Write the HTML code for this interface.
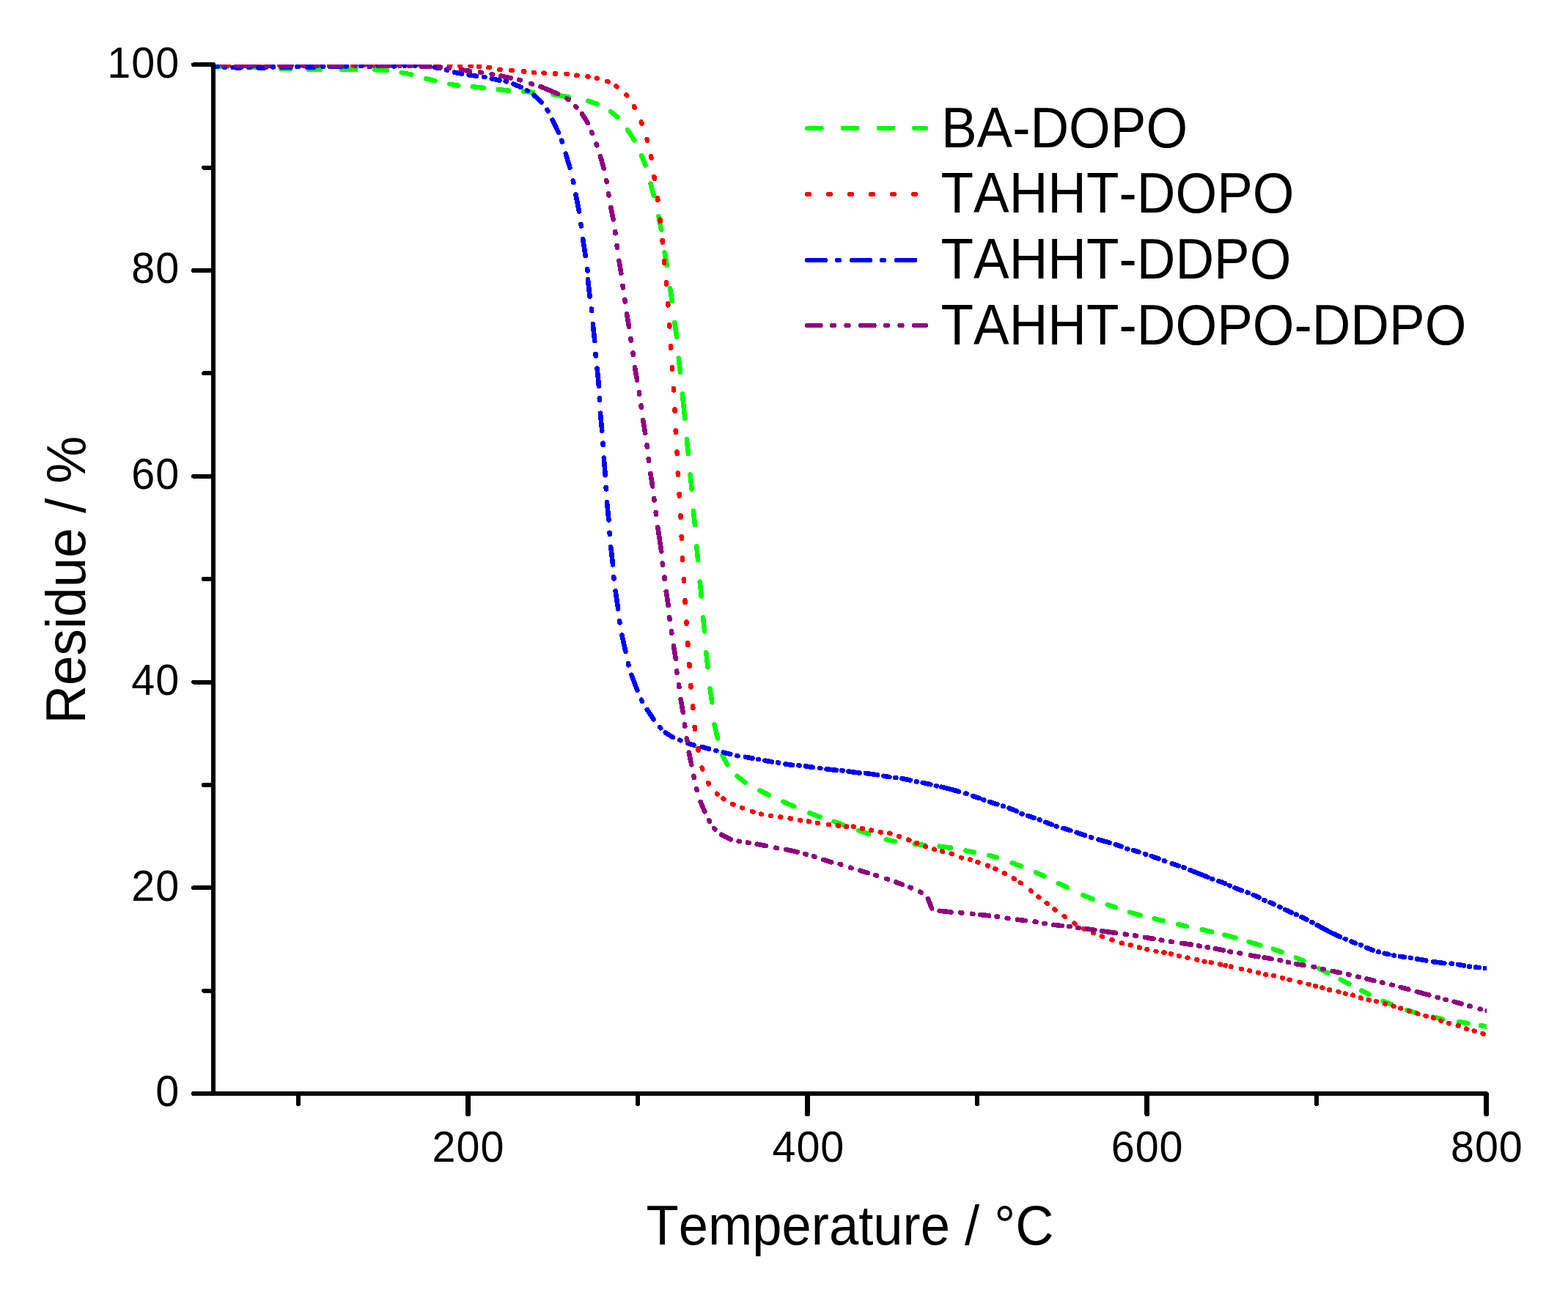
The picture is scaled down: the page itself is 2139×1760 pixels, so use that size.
<!DOCTYPE html>
<html lang="en">
<head>
<meta charset="utf-8">
<title>TGA curves: Residue vs Temperature</title>
<style>
html,body{margin:0;padding:0;background:#ffffff;}
body{width:2139px;height:1760px;overflow:hidden;font-family:"Liberation Sans",sans-serif;}
svg{display:block;}
text{font-kerning:none;}
</style>
</head>
<body>
<svg width="2139" height="1760" viewBox="0 0 2139 1760" role="img" aria-label="Thermogravimetric curves: residue versus temperature">
<rect width="2139" height="1760" fill="#ffffff"/>
<clipPath id="c"><rect x="291.2" y="88.0" width="1736.8" height="1404.0"/></clipPath>
<g clip-path="url(#c)" shape-rendering="crispEdges">
<path fill="#00ff00" d="M299.21 93.90L309.60 94.20A3.30 3.30 0 0 0 309.79 87.60L299.40 87.30A3.30 3.30 0 0 0 299.21 93.90zM341.19 95.17L354.59 95.63A3.30 3.30 0 0 0 354.81 89.03L341.41 88.57A3.30 3.30 0 0 0 341.19 95.17zM382.70 96.80L395.60 97.20A3.30 3.30 0 0 0 395.80 90.60L382.90 90.20A3.30 3.30 0 0 0 382.70 96.80zM421.25 97.98L436.65 98.22A3.30 3.30 0 0 0 436.75 91.62L421.35 91.38A3.30 3.30 0 0 0 421.25 97.98zM465.77 98.16L485.17 98.34A3.30 3.30 0 0 0 485.23 91.74L465.83 91.56A3.30 3.30 0 0 0 465.77 98.16zM511.09 98.47L527.48 99.52A3.30 3.30 0 0 0 527.91 92.93L511.52 91.88A3.30 3.30 0 0 0 511.09 98.47zM547.06 102.26L560.70 104.88A3.30 3.30 0 0 0 561.95 98.40L548.30 95.78A3.30 3.30 0 0 0 547.06 102.26zM580.51 110.52L592.68 113.50A3.30 3.30 0 0 0 594.25 107.09L582.09 104.11A3.30 3.30 0 0 0 580.51 110.52zM612.89 118.03L624.80 119.95A3.30 3.30 0 0 0 625.85 113.44L613.94 111.52A3.30 3.30 0 0 0 612.89 118.03zM644.44 121.49L659.33 123.17A3.30 3.30 0 0 0 660.07 116.61L645.18 114.93A3.30 3.30 0 0 0 644.44 121.49zM679.41 125.40L693.73 126.86A3.30 3.30 0 0 0 694.40 120.29L680.08 118.83A3.30 3.30 0 0 0 679.41 125.40zM713.90 128.02L726.83 129.22A3.30 3.30 0 0 0 727.45 122.65L714.52 121.44A3.30 3.30 0 0 0 713.90 128.02zM754.12 132.19L775.00 135.47A3.30 3.30 0 0 0 776.03 128.95L755.15 125.67A3.30 3.30 0 0 0 754.12 132.19zM800.91 140.70L814.15 145.30A3.30 3.30 0 0 0 816.32 139.07L803.07 134.47A3.30 3.30 0 0 0 800.91 140.70zM831.08 154.78L840.31 162.40A3.30 3.30 0 0 0 844.51 157.31L835.28 149.69A3.30 3.30 0 0 0 831.08 154.78zM853.14 178.55L862.52 193.19A3.30 3.30 0 0 0 868.08 189.63L858.69 174.99A3.30 3.30 0 0 0 853.14 178.55zM871.91 213.23L877.41 226.81A3.30 3.30 0 0 0 883.53 224.34L878.03 210.75A3.30 3.30 0 0 0 871.91 213.23zM884.19 251.27L888.64 267.85A3.30 3.30 0 0 0 895.01 266.14L890.56 249.56A3.30 3.30 0 0 0 884.19 251.27zM895.14 295.64L899.08 314.38A3.30 3.30 0 0 0 905.54 313.03L901.60 294.29A3.30 3.30 0 0 0 895.14 295.64zM903.41 345.04L906.35 362.63A3.30 3.30 0 0 0 912.86 361.54L909.92 343.95A3.30 3.30 0 0 0 903.41 345.04zM910.83 393.51L913.56 411.62A3.30 3.30 0 0 0 920.09 410.63L917.35 392.53A3.30 3.30 0 0 0 910.83 393.51zM917.19 440.63L919.72 460.04A3.30 3.30 0 0 0 926.27 459.18L923.74 439.77A3.30 3.30 0 0 0 917.19 440.63zM922.48 489.10L924.68 508.41A3.30 3.30 0 0 0 931.24 507.67L929.04 488.36A3.30 3.30 0 0 0 922.48 489.10zM927.47 537.54L931.10 571.16A3.30 3.30 0 0 0 937.67 570.45L934.03 536.83A3.30 3.30 0 0 0 927.47 537.54zM933.52 599.35L935.69 619.61A3.30 3.30 0 0 0 942.26 618.90L940.08 598.65A3.30 3.30 0 0 0 933.52 599.35zM938.31 647.81L940.41 668.08A3.30 3.30 0 0 0 946.97 667.40L944.88 647.13A3.30 3.30 0 0 0 938.31 647.81zM942.61 697.15L944.67 716.66A3.30 3.30 0 0 0 951.23 715.96L949.17 696.46A3.30 3.30 0 0 0 942.61 697.15zM946.94 745.93L948.89 764.71A3.30 3.30 0 0 0 955.45 764.03L953.51 745.25A3.30 3.30 0 0 0 946.94 745.93zM951.43 793.83L953.53 813.78A3.30 3.30 0 0 0 960.09 813.09L957.99 793.14A3.30 3.30 0 0 0 951.43 793.83zM955.85 842.83L957.86 861.74A3.30 3.30 0 0 0 964.42 861.04L962.41 842.14A3.30 3.30 0 0 0 955.85 842.83zM959.97 890.78L962.30 910.82A3.30 3.30 0 0 0 968.85 910.06L966.53 890.02A3.30 3.30 0 0 0 959.97 890.78zM965.31 939.89L968.00 958.83A3.30 3.30 0 0 0 974.53 957.91L971.85 938.96A3.30 3.30 0 0 0 965.31 939.89zM971.38 988.97L975.72 1008.19A3.30 3.30 0 0 0 982.16 1006.73L977.81 987.52A3.30 3.30 0 0 0 971.38 988.97zM982.53 1032.09L989.54 1045.08A3.30 3.30 0 0 0 995.34 1041.94L988.33 1028.95A3.30 3.30 0 0 0 982.53 1032.09zM1003.44 1061.28L1014.44 1070.26A3.30 3.30 0 0 0 1018.61 1065.14L1007.61 1056.17A3.30 3.30 0 0 0 1003.44 1061.28zM1034.93 1081.27L1047.17 1087.69A3.30 3.30 0 0 0 1050.24 1081.85L1038.00 1075.42A3.30 3.30 0 0 0 1034.93 1081.27zM1067.17 1096.77L1081.90 1103.20A3.30 3.30 0 0 0 1084.54 1097.15L1069.81 1090.72A3.30 3.30 0 0 0 1067.17 1096.77zM1103.33 1112.26L1117.29 1117.66A3.30 3.30 0 0 0 1119.67 1111.51L1105.71 1106.10A3.30 3.30 0 0 0 1103.33 1112.26zM1136.65 1123.94L1149.70 1128.65A3.30 3.30 0 0 0 1151.94 1122.45L1138.89 1117.73A3.30 3.30 0 0 0 1136.65 1123.94zM1169.96 1136.18L1183.99 1140.98A3.30 3.30 0 0 0 1186.13 1134.74L1172.10 1129.93A3.30 3.30 0 0 0 1169.96 1136.18zM1208.06 1148.67L1220.19 1151.32A3.30 3.30 0 0 0 1221.60 1144.87L1209.47 1142.22A3.30 3.30 0 0 0 1208.06 1148.67zM1247.43 1154.83L1260.39 1156.29A3.30 3.30 0 0 0 1261.13 1149.73L1248.17 1148.27A3.30 3.30 0 0 0 1247.43 1154.83zM1281.19 1157.88L1296.80 1159.96A3.30 3.30 0 0 0 1297.67 1153.42L1282.06 1151.34A3.30 3.30 0 0 0 1281.19 1157.88zM1316.42 1163.72L1328.42 1166.10A3.30 3.30 0 0 0 1329.70 1159.62L1317.70 1157.25A3.30 3.30 0 0 0 1316.42 1163.72zM1347.90 1170.05L1359.00 1173.15A3.30 3.30 0 0 0 1360.77 1166.79L1349.67 1163.70A3.30 3.30 0 0 0 1347.90 1170.05zM1379.61 1180.35L1391.97 1184.93A3.30 3.30 0 0 0 1394.27 1178.74L1381.91 1174.16A3.30 3.30 0 0 0 1379.61 1180.35zM1411.48 1193.26L1422.85 1198.29A3.30 3.30 0 0 0 1425.52 1192.25L1414.15 1187.23A3.30 3.30 0 0 0 1411.48 1193.26zM1442.42 1208.04L1454.52 1213.68A3.30 3.30 0 0 0 1457.31 1207.70L1445.21 1202.06A3.30 3.30 0 0 0 1442.42 1208.04zM1476.20 1224.22L1489.43 1229.74A3.30 3.30 0 0 0 1491.97 1223.65L1478.74 1218.13A3.30 3.30 0 0 0 1476.20 1224.22zM1509.75 1237.30L1520.92 1241.14A3.30 3.30 0 0 0 1523.06 1234.90L1511.90 1231.06A3.30 3.30 0 0 0 1509.75 1237.30zM1539.93 1247.67L1554.95 1251.98A3.30 3.30 0 0 0 1556.77 1245.64L1541.74 1241.33A3.30 3.30 0 0 0 1539.93 1247.67zM1573.82 1256.49L1586.31 1259.58A3.30 3.30 0 0 0 1587.89 1253.17L1575.41 1250.08A3.30 3.30 0 0 0 1573.82 1256.49zM1606.02 1264.24L1618.28 1267.06A3.30 3.30 0 0 0 1619.76 1260.63L1607.50 1257.81A3.30 3.30 0 0 0 1606.02 1264.24zM1638.96 1271.42L1652.45 1274.52A3.30 3.30 0 0 0 1653.93 1268.08L1640.44 1264.99A3.30 3.30 0 0 0 1638.96 1271.42zM1669.71 1278.65L1684.52 1282.70A3.30 3.30 0 0 0 1686.26 1276.33L1671.45 1272.28A3.30 3.30 0 0 0 1669.71 1278.65zM1702.69 1288.15L1718.26 1292.82A3.30 3.30 0 0 0 1720.16 1286.49L1704.59 1281.82A3.30 3.30 0 0 0 1702.69 1288.15zM1735.67 1297.93L1747.39 1301.96A3.30 3.30 0 0 0 1749.54 1295.72L1737.81 1291.69A3.30 3.30 0 0 0 1735.67 1297.93zM1766.57 1309.52L1777.10 1313.97A3.30 3.30 0 0 0 1779.67 1307.89L1769.13 1303.44A3.30 3.30 0 0 0 1766.57 1309.52zM1798.05 1324.41L1809.89 1330.28A3.30 3.30 0 0 0 1812.82 1324.37L1800.99 1318.50A3.30 3.30 0 0 0 1798.05 1324.41zM1827.24 1339.31L1838.97 1345.37A3.30 3.30 0 0 0 1842.00 1339.51L1830.27 1333.45A3.30 3.30 0 0 0 1827.24 1339.31zM1855.89 1354.39L1866.14 1359.44A3.30 3.30 0 0 0 1869.06 1353.52L1858.80 1348.47A3.30 3.30 0 0 0 1855.89 1354.39zM1885.43 1368.87L1896.94 1373.49A3.30 3.30 0 0 0 1899.40 1367.37L1887.89 1362.75A3.30 3.30 0 0 0 1885.43 1368.87zM1917.91 1381.24L1930.60 1385.07A3.30 3.30 0 0 0 1932.50 1378.76L1919.82 1374.93A3.30 3.30 0 0 0 1917.91 1381.24zM1954.29 1390.82L1967.54 1393.69A3.30 3.30 0 0 0 1968.94 1387.24L1955.70 1384.37A3.30 3.30 0 0 0 1954.29 1390.82zM1989.35 1397.28L2002.17 1399.45A3.30 3.30 0 0 0 2003.27 1392.95L1990.45 1390.77A3.30 3.30 0 0 0 1989.35 1397.28zM2019.17 1402.38L2034.51 1405.00A3.30 3.30 0 0 0 2035.62 1398.49L2020.28 1395.88A3.30 3.30 0 0 0 2019.17 1402.38z"/>
<path fill="#ff0000" d="M296.68 92.50L297.32 92.50A3.30 3.30 0 0 0 297.32 85.90L296.68 85.90A3.30 3.30 0 0 0 296.68 92.50zM310.56 92.50L311.84 92.50A3.30 3.30 0 0 0 311.84 85.90L310.56 85.90A3.30 3.30 0 0 0 310.56 92.50zM324.76 92.50L326.04 92.50A3.30 3.30 0 0 0 326.04 85.90L324.76 85.90A3.30 3.30 0 0 0 324.76 92.50zM338.96 92.50L340.24 92.50A3.30 3.30 0 0 0 340.24 85.90L338.96 85.90A3.30 3.30 0 0 0 338.96 92.50zM353.16 92.50L354.44 92.50A3.30 3.30 0 0 0 354.44 85.90L353.16 85.90A3.30 3.30 0 0 0 353.16 92.50zM367.36 92.50L368.64 92.50A3.30 3.30 0 0 0 368.64 85.90L367.36 85.90A3.30 3.30 0 0 0 367.36 92.50zM381.56 92.50L382.84 92.50A3.30 3.30 0 0 0 382.84 85.90L381.56 85.90A3.30 3.30 0 0 0 381.56 92.50zM395.76 92.50L397.04 92.50A3.30 3.30 0 0 0 397.04 85.90L395.76 85.90A3.30 3.30 0 0 0 395.76 92.50zM409.96 92.50L411.24 92.50A3.30 3.30 0 0 0 411.24 85.90L409.96 85.90A3.30 3.30 0 0 0 409.96 92.50zM424.16 92.50L425.44 92.50A3.30 3.30 0 0 0 425.44 85.90L424.16 85.90A3.30 3.30 0 0 0 424.16 92.50zM438.36 92.50L439.64 92.50A3.30 3.30 0 0 0 439.64 85.90L438.36 85.90A3.30 3.30 0 0 0 438.36 92.50zM452.56 92.50L453.84 92.50A3.30 3.30 0 0 0 453.84 85.90L452.56 85.90A3.30 3.30 0 0 0 452.56 92.50zM466.76 92.50L468.04 92.50A3.30 3.30 0 0 0 468.04 85.90L466.76 85.90A3.30 3.30 0 0 0 466.76 92.50zM480.96 92.50L482.24 92.50A3.30 3.30 0 0 0 482.24 85.90L480.96 85.90A3.30 3.30 0 0 0 480.96 92.50zM495.16 92.50L496.44 92.50A3.30 3.30 0 0 0 496.44 85.90L495.16 85.90A3.30 3.30 0 0 0 495.16 92.50zM509.36 92.50L510.64 92.50A3.30 3.30 0 0 0 510.64 85.90L509.36 85.90A3.30 3.30 0 0 0 509.36 92.50zM523.56 92.50L524.84 92.50A3.30 3.30 0 0 0 524.84 85.90L523.56 85.90A3.30 3.30 0 0 0 523.56 92.50zM537.76 92.50L539.04 92.50A3.30 3.30 0 0 0 539.04 85.90L537.76 85.90A3.30 3.30 0 0 0 537.76 92.50zM551.96 92.50L553.24 92.50A3.30 3.30 0 0 0 553.24 85.90L551.96 85.90A3.30 3.30 0 0 0 551.96 92.50zM566.16 92.50L567.44 92.50A3.30 3.30 0 0 0 567.44 85.90L566.16 85.90A3.30 3.30 0 0 0 566.16 92.50zM580.36 92.50L581.64 92.50A3.30 3.30 0 0 0 581.64 85.90L580.36 85.90A3.30 3.30 0 0 0 580.36 92.50zM594.49 92.51L595.96 92.49A3.30 3.30 0 0 0 595.91 85.89L594.44 85.91A3.30 3.30 0 0 0 594.49 92.51zM612.99 92.25L614.43 92.26A3.30 3.30 0 0 0 614.50 85.67L613.06 85.65A3.30 3.30 0 0 0 612.99 92.25zM626.59 92.82L627.87 92.87A3.30 3.30 0 0 0 628.14 86.28L626.87 86.23A3.30 3.30 0 0 0 626.59 92.82zM641.45 93.41L642.61 93.47A3.30 3.30 0 0 0 642.91 86.87L641.75 86.82A3.30 3.30 0 0 0 641.45 93.41zM652.61 93.98L653.73 94.07A3.30 3.30 0 0 0 654.26 87.49L653.14 87.40A3.30 3.30 0 0 0 652.61 93.98zM665.95 95.33L667.23 95.51A3.30 3.30 0 0 0 668.17 88.98L666.89 88.80A3.30 3.30 0 0 0 665.95 95.33zM680.78 98.01L682.17 98.19A3.30 3.30 0 0 0 683.02 91.65L681.63 91.47A3.30 3.30 0 0 0 680.78 98.01zM697.06 99.39L698.53 99.51A3.30 3.30 0 0 0 699.06 92.93L697.60 92.81A3.30 3.30 0 0 0 697.06 99.39zM713.61 100.71L714.97 100.84A3.30 3.30 0 0 0 715.59 94.27L714.23 94.14A3.30 3.30 0 0 0 713.61 100.71zM727.59 102.25L728.82 102.35A3.30 3.30 0 0 0 729.37 95.77L728.13 95.67A3.30 3.30 0 0 0 727.59 102.25zM741.35 103.03L742.64 103.10A3.30 3.30 0 0 0 742.99 96.51L741.69 96.44A3.30 3.30 0 0 0 741.35 103.03zM756.56 103.80L757.95 103.86A3.30 3.30 0 0 0 758.19 97.26L756.80 97.21A3.30 3.30 0 0 0 756.56 103.80zM772.24 104.15L773.56 104.25A3.30 3.30 0 0 0 774.07 97.67L772.75 97.57A3.30 3.30 0 0 0 772.24 104.15zM785.81 106.01L787.10 106.17A3.30 3.30 0 0 0 787.88 99.61L786.58 99.46A3.30 3.30 0 0 0 785.81 106.01zM800.96 107.51L802.20 107.69A3.30 3.30 0 0 0 803.14 101.16L801.91 100.98A3.30 3.30 0 0 0 800.96 107.51zM812.99 109.85L814.20 110.16A3.30 3.30 0 0 0 815.83 103.76L814.62 103.45A3.30 3.30 0 0 0 812.99 109.85zM827.17 113.97L828.38 114.47A3.30 3.30 0 0 0 830.92 108.39L829.72 107.88A3.30 3.30 0 0 0 827.17 113.97zM838.70 120.28L839.85 121.11A3.30 3.30 0 0 0 843.73 115.77L842.58 114.93A3.30 3.30 0 0 0 838.70 120.28zM851.68 131.34L852.76 132.59A3.30 3.30 0 0 0 857.75 128.28L856.67 127.03A3.30 3.30 0 0 0 851.68 131.34zM862.00 146.71L862.92 148.39A3.30 3.30 0 0 0 868.72 145.23L867.80 143.55A3.30 3.30 0 0 0 862.00 146.71zM871.78 167.65L872.56 169.66A3.30 3.30 0 0 0 878.71 167.26L877.93 165.25A3.30 3.30 0 0 0 871.78 167.65zM879.38 190.66L879.96 192.76A3.30 3.30 0 0 0 886.32 191.01L885.74 188.91A3.30 3.30 0 0 0 879.38 190.66zM884.71 213.86L885.15 216.18A3.30 3.30 0 0 0 891.64 214.96L891.20 212.64A3.30 3.30 0 0 0 884.71 213.86zM889.09 241.78L889.49 244.34A3.30 3.30 0 0 0 896.01 243.32L895.61 240.76A3.30 3.30 0 0 0 889.09 241.78zM893.66 270.61L894.02 273.18A3.30 3.30 0 0 0 900.56 272.28L900.20 269.71A3.30 3.30 0 0 0 893.66 270.61zM897.11 299.62L897.40 302.20A3.30 3.30 0 0 0 903.96 301.45L903.66 298.86A3.30 3.30 0 0 0 897.11 299.62zM900.36 328.28L900.60 330.84A3.30 3.30 0 0 0 907.17 330.20L906.93 327.64A3.30 3.30 0 0 0 900.36 328.28zM902.64 356.58L902.87 359.14A3.30 3.30 0 0 0 909.45 358.55L909.22 355.99A3.30 3.30 0 0 0 902.64 356.58zM905.50 385.46L905.73 388.05A3.30 3.30 0 0 0 912.30 387.46L912.07 384.88A3.30 3.30 0 0 0 905.50 385.46zM907.79 414.16L907.99 416.75A3.30 3.30 0 0 0 914.57 416.26L914.37 413.66A3.30 3.30 0 0 0 907.79 414.16zM909.89 443.23L910.07 445.82A3.30 3.30 0 0 0 916.65 445.37L916.47 442.77A3.30 3.30 0 0 0 909.89 443.23zM911.79 472.30L911.96 474.90A3.30 3.30 0 0 0 918.55 474.47L918.38 471.87A3.30 3.30 0 0 0 911.79 472.30zM913.69 501.20L913.86 503.79A3.30 3.30 0 0 0 920.45 503.36L920.28 500.77A3.30 3.30 0 0 0 913.69 501.20zM915.60 530.09L915.76 532.66A3.30 3.30 0 0 0 922.34 532.27L922.19 529.70A3.30 3.30 0 0 0 915.60 530.09zM917.13 558.57L917.26 561.15A3.30 3.30 0 0 0 923.85 560.82L923.73 558.24A3.30 3.30 0 0 0 917.13 558.57zM918.46 587.67L918.60 590.26A3.30 3.30 0 0 0 925.19 589.90L925.05 587.30A3.30 3.30 0 0 0 918.46 587.67zM920.36 616.56L920.50 619.15A3.30 3.30 0 0 0 927.09 618.81L926.95 616.21A3.30 3.30 0 0 0 920.36 616.56zM921.50 645.65L921.64 648.23A3.30 3.30 0 0 0 928.23 647.89L928.09 645.30A3.30 3.30 0 0 0 921.50 645.65zM923.39 674.20L923.56 676.79A3.30 3.30 0 0 0 930.14 676.37L929.98 673.78A3.30 3.30 0 0 0 923.39 674.20zM925.12 703.44L925.25 706.03A3.30 3.30 0 0 0 931.84 705.69L931.71 703.09A3.30 3.30 0 0 0 925.12 703.44zM926.45 732.16L926.57 734.76A3.30 3.30 0 0 0 933.17 734.45L933.05 731.86A3.30 3.30 0 0 0 926.45 732.16zM927.78 761.27L927.91 763.87A3.30 3.30 0 0 0 934.50 763.52L934.37 760.92A3.30 3.30 0 0 0 927.78 761.27zM929.48 790.38L929.63 792.97A3.30 3.30 0 0 0 936.22 792.59L936.07 789.99A3.30 3.30 0 0 0 929.48 790.38zM931.19 819.48L931.35 822.07A3.30 3.30 0 0 0 937.94 821.66L937.78 819.07A3.30 3.30 0 0 0 931.19 819.48zM933.09 848.58L933.26 851.17A3.30 3.30 0 0 0 939.84 850.74L939.67 848.14A3.30 3.30 0 0 0 933.09 848.58zM934.98 877.48L935.16 880.08A3.30 3.30 0 0 0 941.75 879.63L941.57 877.03A3.30 3.30 0 0 0 934.98 877.48zM937.07 906.57L937.25 909.17A3.30 3.30 0 0 0 943.84 908.71L943.66 906.12A3.30 3.30 0 0 0 937.07 906.57zM938.96 935.34L939.18 937.91A3.30 3.30 0 0 0 945.75 937.36L945.54 934.79A3.30 3.30 0 0 0 938.96 935.34zM941.80 963.91L942.05 966.46A3.30 3.30 0 0 0 948.62 965.83L948.37 963.27A3.30 3.30 0 0 0 941.80 963.91zM944.44 992.50L944.75 995.08A3.30 3.30 0 0 0 951.30 994.27L950.99 991.69A3.30 3.30 0 0 0 944.44 992.50zM948.81 1021.79L949.26 1024.26A3.30 3.30 0 0 0 955.75 1023.07L955.30 1020.60A3.30 3.30 0 0 0 948.81 1021.79zM954.51 1048.41L955.15 1050.49A3.30 3.30 0 0 0 961.46 1048.55L960.82 1046.47A3.30 3.30 0 0 0 954.51 1048.41zM963.24 1069.71L964.15 1071.27A3.30 3.30 0 0 0 969.84 1067.94L968.93 1066.38A3.30 3.30 0 0 0 963.24 1069.71zM975.50 1085.09L976.41 1086.03A3.30 3.30 0 0 0 981.16 1081.45L980.25 1080.51A3.30 3.30 0 0 0 975.50 1085.09zM984.59 1092.37L985.56 1093.00A3.30 3.30 0 0 0 989.17 1087.48L988.21 1086.85A3.30 3.30 0 0 0 984.59 1092.37zM997.80 1100.03L998.95 1100.59A3.30 3.30 0 0 0 1001.82 1094.64L1000.67 1094.09A3.30 3.30 0 0 0 997.80 1100.03zM1010.79 1105.15L1012.00 1105.60A3.30 3.30 0 0 0 1014.31 1099.42L1013.10 1098.96A3.30 3.30 0 0 0 1010.79 1105.15zM1025.21 1110.37L1026.37 1110.74A3.30 3.30 0 0 0 1028.40 1104.46L1027.24 1104.09A3.30 3.30 0 0 0 1025.21 1110.37zM1037.13 1113.74L1038.24 1113.99A3.30 3.30 0 0 0 1039.68 1107.55L1038.57 1107.30A3.30 3.30 0 0 0 1037.13 1113.74zM1050.44 1116.10L1051.62 1116.28A3.30 3.30 0 0 0 1052.61 1109.75L1051.42 1109.58A3.30 3.30 0 0 0 1050.44 1116.10zM1063.76 1117.82L1064.97 1117.99A3.30 3.30 0 0 0 1065.89 1111.46L1064.69 1111.29A3.30 3.30 0 0 0 1063.76 1117.82zM1077.17 1119.88L1078.37 1120.09A3.30 3.30 0 0 0 1079.48 1113.58L1078.28 1113.37A3.30 3.30 0 0 0 1077.17 1119.88zM1090.55 1122.37L1091.68 1122.55A3.30 3.30 0 0 0 1092.72 1116.03L1091.59 1115.85A3.30 3.30 0 0 0 1090.55 1122.37zM1102.37 1123.90L1103.43 1124.07A3.30 3.30 0 0 0 1104.48 1117.55L1103.41 1117.38A3.30 3.30 0 0 0 1102.37 1123.90zM1114.29 1126.17L1115.51 1126.36A3.30 3.30 0 0 0 1116.51 1119.84L1115.29 1119.65A3.30 3.30 0 0 0 1114.29 1126.17zM1129.58 1128.10L1130.83 1128.26A3.30 3.30 0 0 0 1131.64 1121.71L1130.38 1121.55A3.30 3.30 0 0 0 1129.58 1128.10zM1142.42 1129.64L1143.50 1129.77A3.30 3.30 0 0 0 1144.27 1123.21L1143.19 1123.08A3.30 3.30 0 0 0 1142.42 1129.64zM1154.07 1131.02L1155.01 1131.08A3.30 3.30 0 0 0 1155.43 1124.49L1154.49 1124.43A3.30 3.30 0 0 0 1154.07 1131.02zM1163.37 1130.97L1164.35 1131.09A3.30 3.30 0 0 0 1165.15 1124.54L1164.17 1124.42A3.30 3.30 0 0 0 1163.37 1130.97zM1175.41 1133.54L1176.50 1133.76A3.30 3.30 0 0 0 1177.82 1127.30L1176.73 1127.07A3.30 3.30 0 0 0 1175.41 1133.54zM1187.39 1135.82L1188.50 1136.05A3.30 3.30 0 0 0 1189.79 1129.57L1188.69 1129.35A3.30 3.30 0 0 0 1187.39 1135.82zM1200.23 1138.52L1201.35 1138.71A3.30 3.30 0 0 0 1202.44 1132.20L1201.31 1132.01A3.30 3.30 0 0 0 1200.23 1138.52zM1212.39 1139.97L1213.52 1140.23A3.30 3.30 0 0 0 1214.98 1133.79L1213.86 1133.54A3.30 3.30 0 0 0 1212.39 1139.97zM1224.75 1143.97L1225.92 1144.38A3.30 3.30 0 0 0 1228.10 1138.15L1226.93 1137.75A3.30 3.30 0 0 0 1224.75 1143.97zM1238.03 1148.89L1239.12 1149.30A3.30 3.30 0 0 0 1241.44 1143.12L1240.35 1142.71A3.30 3.30 0 0 0 1238.03 1148.89zM1249.05 1153.06L1250.07 1153.46A3.30 3.30 0 0 0 1252.48 1147.32L1251.45 1146.92A3.30 3.30 0 0 0 1249.05 1153.06zM1260.90 1157.86L1261.96 1158.24A3.30 3.30 0 0 0 1264.20 1152.03L1263.13 1151.65A3.30 3.30 0 0 0 1260.90 1157.86zM1273.09 1161.76L1274.11 1162.06A3.30 3.30 0 0 0 1275.96 1155.73L1274.94 1155.43A3.30 3.30 0 0 0 1273.09 1161.76zM1283.99 1164.65L1285.05 1164.93A3.30 3.30 0 0 0 1286.74 1158.55L1285.67 1158.27A3.30 3.30 0 0 0 1283.99 1164.65zM1296.67 1167.96L1297.83 1168.34A3.30 3.30 0 0 0 1299.91 1162.08L1298.75 1161.69A3.30 3.30 0 0 0 1296.67 1167.96zM1309.84 1173.21L1310.96 1173.56A3.30 3.30 0 0 0 1312.90 1167.25L1311.77 1166.90A3.30 3.30 0 0 0 1309.84 1173.21zM1321.98 1175.75L1322.99 1176.02A3.30 3.30 0 0 0 1324.71 1169.65L1323.71 1169.38A3.30 3.30 0 0 0 1321.98 1175.75zM1332.18 1179.24L1333.26 1179.62A3.30 3.30 0 0 0 1335.42 1173.38L1334.34 1173.01A3.30 3.30 0 0 0 1332.18 1179.24zM1345.78 1183.95L1346.86 1184.36A3.30 3.30 0 0 0 1349.20 1178.18L1348.12 1177.77A3.30 3.30 0 0 0 1345.78 1183.95zM1356.06 1188.20L1357.08 1188.67A3.30 3.30 0 0 0 1359.83 1182.67L1358.81 1182.20A3.30 3.30 0 0 0 1356.06 1188.20zM1368.20 1194.14L1369.33 1194.74A3.30 3.30 0 0 0 1372.41 1188.90L1371.27 1188.30A3.30 3.30 0 0 0 1368.20 1194.14zM1381.04 1201.28L1382.02 1201.87A3.30 3.30 0 0 0 1385.42 1196.21L1384.44 1195.62A3.30 3.30 0 0 0 1381.04 1201.28zM1389.73 1206.95L1390.77 1207.70A3.30 3.30 0 0 0 1394.60 1202.32L1393.56 1201.58A3.30 3.30 0 0 0 1389.73 1206.95zM1403.85 1217.46L1404.96 1218.32A3.30 3.30 0 0 0 1409.00 1213.11L1407.90 1212.25A3.30 3.30 0 0 0 1403.85 1217.46zM1414.36 1226.06L1415.34 1226.82A3.30 3.30 0 0 0 1419.41 1221.63L1418.43 1220.86A3.30 3.30 0 0 0 1414.36 1226.06zM1425.77 1234.62L1426.76 1235.39A3.30 3.30 0 0 0 1430.81 1230.17L1429.82 1229.40A3.30 3.30 0 0 0 1425.77 1234.62zM1436.42 1243.19L1437.50 1244.00A3.30 3.30 0 0 0 1441.45 1238.71L1440.37 1237.90A3.30 3.30 0 0 0 1436.42 1243.19zM1449.93 1252.73L1451.14 1253.58A3.30 3.30 0 0 0 1454.94 1248.18L1453.73 1247.33A3.30 3.30 0 0 0 1449.93 1252.73zM1463.57 1262.37L1464.75 1263.12A3.30 3.30 0 0 0 1468.29 1257.55L1467.12 1256.80A3.30 3.30 0 0 0 1463.57 1262.37zM1476.60 1269.84L1477.75 1270.42A3.30 3.30 0 0 0 1480.73 1264.53L1479.59 1263.95A3.30 3.30 0 0 0 1476.60 1269.84zM1489.57 1275.69L1490.67 1276.16A3.30 3.30 0 0 0 1493.25 1270.08L1492.14 1269.62A3.30 3.30 0 0 0 1489.57 1275.69zM1501.66 1280.52L1502.81 1280.95A3.30 3.30 0 0 0 1505.11 1274.76L1503.95 1274.33A3.30 3.30 0 0 0 1501.66 1280.52zM1515.41 1285.32L1516.62 1285.73A3.30 3.30 0 0 0 1518.73 1279.47L1517.52 1279.06A3.30 3.30 0 0 0 1515.41 1285.32zM1528.93 1289.79L1530.06 1290.10A3.30 3.30 0 0 0 1531.83 1283.75L1530.70 1283.43A3.30 3.30 0 0 0 1528.93 1289.79zM1541.01 1292.49L1542.08 1292.76A3.30 3.30 0 0 0 1543.71 1286.37L1542.63 1286.09A3.30 3.30 0 0 0 1541.01 1292.49zM1552.99 1295.91L1554.00 1296.18A3.30 3.30 0 0 0 1555.68 1289.79L1554.67 1289.53A3.30 3.30 0 0 0 1552.99 1295.91zM1563.55 1298.43L1564.57 1298.66A3.30 3.30 0 0 0 1566.03 1292.22L1565.01 1291.99A3.30 3.30 0 0 0 1563.55 1298.43zM1575.85 1301.14L1576.89 1301.33A3.30 3.30 0 0 0 1578.06 1294.83L1577.02 1294.64A3.30 3.30 0 0 0 1575.85 1301.14zM1586.98 1302.68L1587.90 1302.84A3.30 3.30 0 0 0 1588.99 1296.33L1588.07 1296.17A3.30 3.30 0 0 0 1586.98 1302.68zM1596.29 1304.52L1597.21 1304.73A3.30 3.30 0 0 0 1598.69 1298.30L1597.77 1298.09A3.30 3.30 0 0 0 1596.29 1304.52zM1607.25 1307.35L1608.26 1307.59A3.30 3.30 0 0 0 1609.78 1301.17L1608.78 1300.93A3.30 3.30 0 0 0 1607.25 1307.35zM1618.70 1309.84L1619.79 1310.07A3.30 3.30 0 0 0 1621.15 1303.62L1620.06 1303.39A3.30 3.30 0 0 0 1618.70 1309.84zM1631.62 1312.50L1632.66 1312.73A3.30 3.30 0 0 0 1634.08 1306.28L1633.04 1306.05A3.30 3.30 0 0 0 1631.62 1312.50zM1642.05 1315.02L1642.92 1315.19A3.30 3.30 0 0 0 1644.19 1308.71L1643.32 1308.54A3.30 3.30 0 0 0 1642.05 1315.02zM1651.19 1316.36L1652.14 1316.53A3.30 3.30 0 0 0 1653.30 1310.03L1652.35 1309.86A3.30 3.30 0 0 0 1651.19 1316.36zM1663.31 1318.81L1664.18 1318.99A3.30 3.30 0 0 0 1665.51 1312.52L1664.64 1312.34A3.30 3.30 0 0 0 1663.31 1318.81zM1670.64 1320.35L1671.30 1320.49A3.30 3.30 0 0 0 1672.63 1314.02L1671.97 1313.89A3.30 3.30 0 0 0 1670.64 1320.35zM1678.04 1321.82L1679.01 1322.04A3.30 3.30 0 0 0 1680.44 1315.59L1679.47 1315.38A3.30 3.30 0 0 0 1678.04 1321.82zM1691.99 1325.11L1693.13 1325.36A3.30 3.30 0 0 0 1694.55 1318.92L1693.41 1318.67A3.30 3.30 0 0 0 1691.99 1325.11zM1703.45 1327.40L1704.49 1327.63A3.30 3.30 0 0 0 1705.91 1321.19L1704.86 1320.96A3.30 3.30 0 0 0 1703.45 1327.40zM1715.38 1330.24L1716.36 1330.47A3.30 3.30 0 0 0 1717.92 1324.06L1716.94 1323.82A3.30 3.30 0 0 0 1715.38 1330.24zM1725.45 1332.77L1726.39 1332.95A3.30 3.30 0 0 0 1727.63 1326.47L1726.69 1326.29A3.30 3.30 0 0 0 1725.45 1332.77zM1736.38 1334.26L1737.40 1334.48A3.30 3.30 0 0 0 1738.75 1328.02L1737.73 1327.80A3.30 3.30 0 0 0 1736.38 1334.26zM1748.03 1337.43L1748.99 1337.69A3.30 3.30 0 0 0 1750.68 1331.31L1749.72 1331.06A3.30 3.30 0 0 0 1748.03 1337.43zM1757.75 1339.93L1758.81 1340.18A3.30 3.30 0 0 0 1760.35 1333.76L1759.29 1333.51A3.30 3.30 0 0 0 1757.75 1339.93zM1771.78 1343.15L1772.95 1343.43A3.30 3.30 0 0 0 1774.45 1337.00L1773.28 1336.73A3.30 3.30 0 0 0 1771.78 1343.15zM1783.82 1346.01L1784.78 1346.25A3.30 3.30 0 0 0 1786.37 1339.84L1785.41 1339.61A3.30 3.30 0 0 0 1783.82 1346.01zM1793.37 1348.49L1794.21 1348.71A3.30 3.30 0 0 0 1795.83 1342.31L1794.99 1342.09A3.30 3.30 0 0 0 1793.37 1348.49zM1802.63 1350.75L1803.47 1350.98A3.30 3.30 0 0 0 1805.21 1344.61L1804.36 1344.38A3.30 3.30 0 0 0 1802.63 1350.75zM1812.15 1353.62L1813.14 1353.86A3.30 3.30 0 0 0 1814.69 1347.44L1813.70 1347.21A3.30 3.30 0 0 0 1812.15 1353.62zM1824.73 1356.10L1825.71 1356.33A3.30 3.30 0 0 0 1827.21 1349.91L1826.23 1349.68A3.30 3.30 0 0 0 1824.73 1356.10zM1834.06 1358.76L1834.93 1358.98A3.30 3.30 0 0 0 1836.51 1352.57L1835.64 1352.35A3.30 3.30 0 0 0 1834.06 1358.76zM1844.00 1360.80L1844.95 1361.07A3.30 3.30 0 0 0 1846.72 1354.71L1845.78 1354.45A3.30 3.30 0 0 0 1844.00 1360.80zM1854.96 1364.58L1855.94 1364.87A3.30 3.30 0 0 0 1857.81 1358.54L1856.83 1358.25A3.30 3.30 0 0 0 1854.96 1364.58zM1866.05 1367.34L1866.99 1367.55A3.30 3.30 0 0 0 1868.40 1361.10L1867.46 1360.89A3.30 3.30 0 0 0 1866.05 1367.34zM1876.04 1369.21L1877.04 1369.45A3.30 3.30 0 0 0 1878.57 1363.03L1877.56 1362.79A3.30 3.30 0 0 0 1876.04 1369.21zM1888.23 1372.57L1889.29 1372.87A3.30 3.30 0 0 0 1891.08 1366.52L1890.03 1366.22A3.30 3.30 0 0 0 1888.23 1372.57zM1899.48 1375.81L1900.42 1376.08A3.30 3.30 0 0 0 1902.27 1369.74L1901.33 1369.47A3.30 3.30 0 0 0 1899.48 1375.81zM1909.11 1378.63L1910.08 1378.93A3.30 3.30 0 0 0 1912.03 1372.62L1911.07 1372.33A3.30 3.30 0 0 0 1909.11 1378.63zM1920.86 1382.42L1921.90 1382.74A3.30 3.30 0 0 0 1923.86 1376.44L1922.82 1376.12A3.30 3.30 0 0 0 1920.86 1382.42zM1932.33 1385.87L1933.35 1386.17A3.30 3.30 0 0 0 1935.20 1379.83L1934.18 1379.53A3.30 3.30 0 0 0 1932.33 1385.87zM1943.80 1389.13L1944.78 1389.40A3.30 3.30 0 0 0 1946.55 1383.04L1945.57 1382.77A3.30 3.30 0 0 0 1943.80 1389.13zM1954.15 1391.93L1955.07 1392.22A3.30 3.30 0 0 0 1957.10 1385.95L1956.18 1385.65A3.30 3.30 0 0 0 1954.15 1391.93zM1964.16 1395.69L1965.09 1396.02A3.30 3.30 0 0 0 1967.25 1389.78L1966.31 1389.46A3.30 3.30 0 0 0 1964.16 1395.69zM1975.12 1399.19L1976.17 1399.48A3.30 3.30 0 0 0 1977.96 1393.13L1976.91 1392.83A3.30 3.30 0 0 0 1975.12 1399.19zM1987.75 1402.37L1988.83 1402.71A3.30 3.30 0 0 0 1990.81 1396.41L1989.73 1396.07A3.30 3.30 0 0 0 1987.75 1402.37zM1999.16 1406.74L2000.15 1407.06A3.30 3.30 0 0 0 2002.21 1400.79L2001.22 1400.47A3.30 3.30 0 0 0 1999.16 1406.74zM2009.89 1409.63L2010.90 1409.93A3.30 3.30 0 0 0 2012.77 1403.60L2011.77 1403.30A3.30 3.30 0 0 0 2009.89 1409.63zM2021.62 1413.41L2022.62 1413.72A3.30 3.30 0 0 0 2024.61 1407.43L2023.61 1407.11A3.30 3.30 0 0 0 2021.62 1413.41zM2032.37 1416.73L2032.83 1416.88A3.30 3.30 0 0 0 2034.78 1410.57L2034.31 1410.42A3.30 3.30 0 0 0 2032.37 1416.73z"/>
<path fill="#0000ff" d="M296.10 94.36L296.53 94.40A3.30 3.30 0 0 0 297.07 87.82L296.64 87.78A3.30 3.30 0 0 0 296.10 94.36zM305.95 95.19L307.09 95.24A3.30 3.30 0 0 0 307.37 88.65L306.23 88.60A3.30 3.30 0 0 0 305.95 95.19zM317.64 95.49L328.82 95.54A3.30 3.30 0 0 0 328.85 88.94L317.67 88.89A3.30 3.30 0 0 0 317.64 95.49zM339.10 95.22L340.55 95.22A3.30 3.30 0 0 0 340.57 88.62L339.11 88.62A3.30 3.30 0 0 0 339.10 95.22zM352.07 95.66L362.65 95.49A3.30 3.30 0 0 0 362.55 88.89L351.97 89.06A3.30 3.30 0 0 0 352.07 95.66zM371.75 94.63L373.15 94.62A3.30 3.30 0 0 0 373.08 88.02L371.68 88.03A3.30 3.30 0 0 0 371.75 94.63zM384.05 95.29L396.41 95.15A3.30 3.30 0 0 0 396.33 88.55L383.97 88.69A3.30 3.30 0 0 0 384.05 95.29zM405.51 94.16L406.93 94.15A3.30 3.30 0 0 0 406.86 87.55L405.44 87.56A3.30 3.30 0 0 0 405.51 94.16zM418.40 94.91L428.39 94.82A3.30 3.30 0 0 0 428.33 88.22L418.34 88.31A3.30 3.30 0 0 0 418.40 94.91zM439.84 93.81L441.33 93.79A3.30 3.30 0 0 0 441.25 87.19L439.76 87.21A3.30 3.30 0 0 0 439.84 93.81zM450.37 94.42L466.28 94.36A3.30 3.30 0 0 0 466.26 87.77L450.35 87.82A3.30 3.30 0 0 0 450.37 94.42zM471.89 93.70L473.36 93.66A3.30 3.30 0 0 0 473.18 87.06L471.71 87.10A3.30 3.30 0 0 0 471.89 93.70zM491.97 93.43L493.31 93.45A3.30 3.30 0 0 0 493.39 86.85L492.04 86.83A3.30 3.30 0 0 0 491.97 93.43zM503.61 94.05L504.82 94.02A3.30 3.30 0 0 0 504.68 87.42L503.47 87.45A3.30 3.30 0 0 0 503.61 94.05zM515.77 92.90L526.35 92.80A3.30 3.30 0 0 0 526.29 86.20L515.71 86.30A3.30 3.30 0 0 0 515.77 92.90zM536.66 93.68L537.99 93.68A3.30 3.30 0 0 0 537.99 87.08L536.66 87.08A3.30 3.30 0 0 0 536.66 93.68zM551.62 92.87L552.83 92.83A3.30 3.30 0 0 0 552.64 86.23L551.43 86.27A3.30 3.30 0 0 0 551.62 92.87zM565.15 92.84L566.21 92.86A3.30 3.30 0 0 0 566.37 86.26L565.31 86.24A3.30 3.30 0 0 0 565.15 92.84zM574.10 93.19L579.33 93.67A3.30 3.30 0 0 0 579.93 87.09L574.70 86.62A3.30 3.30 0 0 0 574.10 93.19zM592.77 95.35L599.29 96.42A3.30 3.30 0 0 0 600.36 89.91L593.84 88.84A3.30 3.30 0 0 0 592.77 95.35zM608.18 98.52L609.40 98.83A3.30 3.30 0 0 0 611.01 92.43L609.80 92.12A3.30 3.30 0 0 0 608.18 98.52zM619.20 101.91L629.40 104.14A3.30 3.30 0 0 0 630.80 97.69L620.60 95.46A3.30 3.30 0 0 0 619.20 101.91zM638.88 105.44L649.19 107.07A3.30 3.30 0 0 0 650.22 100.55L639.91 98.93A3.30 3.30 0 0 0 638.88 105.44zM659.54 108.09L660.89 108.32A3.30 3.30 0 0 0 662.02 101.82L660.67 101.58A3.30 3.30 0 0 0 659.54 108.09zM670.06 110.53L681.02 112.93A3.30 3.30 0 0 0 682.43 106.49L671.47 104.08A3.30 3.30 0 0 0 670.06 110.53zM688.64 114.11L689.89 114.47A3.30 3.30 0 0 0 691.69 108.12L690.44 107.76A3.30 3.30 0 0 0 688.64 114.11zM699.21 117.71L709.37 121.98A3.30 3.30 0 0 0 711.92 115.89L701.77 111.62A3.30 3.30 0 0 0 699.21 117.71zM716.98 126.12L718.17 126.88A3.30 3.30 0 0 0 721.73 121.33L720.54 120.57A3.30 3.30 0 0 0 716.98 126.12zM725.91 131.97L736.34 142.08A3.30 3.30 0 0 0 740.93 137.34L730.50 127.23A3.30 3.30 0 0 0 725.91 131.97zM743.63 151.72L744.67 153.32A3.30 3.30 0 0 0 750.21 149.73L749.17 148.13A3.30 3.30 0 0 0 743.63 151.72zM750.68 165.01L758.87 182.24A3.30 3.30 0 0 0 764.83 179.40L756.64 162.17A3.30 3.30 0 0 0 750.68 165.01zM763.04 192.66L763.75 194.66A3.30 3.30 0 0 0 769.97 192.44L769.25 190.43A3.30 3.30 0 0 0 763.04 192.66zM768.57 210.35L774.26 230.00A3.30 3.30 0 0 0 780.59 228.16L774.91 208.52A3.30 3.30 0 0 0 768.57 210.35zM778.59 247.37L779.15 249.83A3.30 3.30 0 0 0 785.59 248.37L785.03 245.91A3.30 3.30 0 0 0 778.59 247.37zM782.22 266.09L786.70 289.09A3.30 3.30 0 0 0 793.18 287.83L788.70 264.83A3.30 3.30 0 0 0 782.22 266.09zM789.28 306.40L789.67 308.97A3.30 3.30 0 0 0 796.20 307.98L795.80 305.41A3.30 3.30 0 0 0 789.28 306.40zM791.88 326.51L795.44 349.70A3.30 3.30 0 0 0 801.96 348.70L798.40 325.51A3.30 3.30 0 0 0 791.88 326.51zM797.88 367.60L798.15 369.96A3.30 3.30 0 0 0 804.71 369.20L804.44 366.85A3.30 3.30 0 0 0 797.88 367.60zM798.72 381.67L801.29 404.76A3.30 3.30 0 0 0 807.85 404.03L805.28 380.94A3.30 3.30 0 0 0 798.72 381.67zM803.57 421.89L803.86 424.47A3.30 3.30 0 0 0 810.42 423.74L810.13 421.16A3.30 3.30 0 0 0 803.57 421.89zM805.51 442.07L808.00 465.66A3.30 3.30 0 0 0 814.56 464.96L812.07 441.38A3.30 3.30 0 0 0 805.51 442.07zM809.29 483.23L809.53 485.82A3.30 3.30 0 0 0 816.11 485.21L815.86 482.62A3.30 3.30 0 0 0 809.29 483.23zM811.27 502.88L813.65 527.04A3.30 3.30 0 0 0 820.22 526.40L817.84 502.23A3.30 3.30 0 0 0 811.27 502.88zM814.45 543.43L814.63 546.02A3.30 3.30 0 0 0 821.22 545.55L821.03 542.95A3.30 3.30 0 0 0 814.45 543.43zM815.71 564.04L817.95 587.91A3.30 3.30 0 0 0 824.52 587.29L822.28 563.42A3.30 3.30 0 0 0 815.71 564.04zM819.20 604.85L819.39 607.44A3.30 3.30 0 0 0 825.98 606.94L825.78 604.35A3.30 3.30 0 0 0 819.20 604.85zM820.48 624.89L822.49 648.67A3.30 3.30 0 0 0 829.06 648.12L827.06 624.33A3.30 3.30 0 0 0 820.48 624.89zM823.38 665.10L823.57 667.70A3.30 3.30 0 0 0 830.15 667.22L829.96 664.62A3.30 3.30 0 0 0 823.38 665.10zM824.79 685.73L827.12 709.96A3.30 3.30 0 0 0 833.69 709.33L831.36 685.09A3.30 3.30 0 0 0 824.79 685.73zM828.31 726.94L828.54 729.53A3.30 3.30 0 0 0 835.11 728.95L834.88 726.36A3.30 3.30 0 0 0 828.31 726.94zM830.03 746.61L832.73 770.92A3.30 3.30 0 0 0 839.28 770.19L836.59 745.88A3.30 3.30 0 0 0 830.03 746.61zM833.99 787.53L834.28 790.09A3.30 3.30 0 0 0 840.84 789.35L840.55 786.79A3.30 3.30 0 0 0 833.99 787.53zM836.36 806.75L839.92 831.16A3.30 3.30 0 0 0 846.45 830.21L842.89 805.80A3.30 3.30 0 0 0 836.36 806.75zM841.75 847.59L842.15 850.11A3.30 3.30 0 0 0 848.67 849.07L848.26 846.54A3.30 3.30 0 0 0 841.75 847.59zM845.24 867.25L850.13 889.74A3.30 3.30 0 0 0 856.58 888.34L851.69 865.85A3.30 3.30 0 0 0 845.24 867.25zM853.69 906.03L854.31 908.31A3.30 3.30 0 0 0 860.68 906.59L860.06 904.31A3.30 3.30 0 0 0 853.69 906.03zM858.27 921.76L866.28 943.00A3.30 3.30 0 0 0 872.46 940.68L864.44 919.43A3.30 3.30 0 0 0 858.27 921.76zM872.02 956.29L872.95 958.15A3.30 3.30 0 0 0 878.85 955.19L877.92 953.33A3.30 3.30 0 0 0 872.02 956.29zM879.83 969.74L889.17 983.47A3.30 3.30 0 0 0 894.62 979.76L885.28 966.03A3.30 3.30 0 0 0 879.83 969.74zM897.55 994.44L898.64 995.64A3.30 3.30 0 0 0 903.51 991.18L902.42 989.99A3.30 3.30 0 0 0 897.55 994.44zM906.12 1002.39L916.11 1008.77A3.30 3.30 0 0 0 919.66 1003.20L909.67 996.82A3.30 3.30 0 0 0 906.12 1002.39zM925.79 1012.69L927.05 1013.23A3.30 3.30 0 0 0 929.65 1007.16L928.39 1006.62A3.30 3.30 0 0 0 925.79 1012.69zM937.12 1017.35L945.75 1019.86A3.30 3.30 0 0 0 947.59 1013.52L938.96 1011.01A3.30 3.30 0 0 0 937.12 1017.35zM956.80 1022.31L966.11 1024.82A3.30 3.30 0 0 0 967.84 1018.45L958.53 1015.94A3.30 3.30 0 0 0 956.80 1022.31zM975.53 1027.23L976.78 1027.54A3.30 3.30 0 0 0 978.38 1021.14L977.14 1020.83A3.30 3.30 0 0 0 975.53 1027.23zM985.97 1029.73L995.45 1032.08A3.30 3.30 0 0 0 997.04 1025.67L987.55 1023.32A3.30 3.30 0 0 0 985.97 1029.73zM1004.76 1034.33L1006.05 1034.58A3.30 3.30 0 0 0 1007.33 1028.11L1006.04 1027.85A3.30 3.30 0 0 0 1004.76 1034.33zM1016.23 1036.07L1026.08 1037.81A3.30 3.30 0 0 0 1027.23 1031.31L1017.38 1029.57A3.30 3.30 0 0 0 1016.23 1036.07zM1033.41 1039.11L1034.54 1039.32A3.30 3.30 0 0 0 1035.72 1032.82L1034.58 1032.62A3.30 3.30 0 0 0 1033.41 1039.11zM1042.90 1040.90L1052.53 1042.60A3.30 3.30 0 0 0 1053.67 1036.10L1044.05 1034.40A3.30 3.30 0 0 0 1042.90 1040.90zM1060.46 1043.65L1061.65 1043.85A3.30 3.30 0 0 0 1062.74 1037.34L1061.54 1037.14A3.30 3.30 0 0 0 1060.46 1043.65zM1070.90 1045.69L1080.79 1047.15A3.30 3.30 0 0 0 1081.76 1040.63L1071.87 1039.16A3.30 3.30 0 0 0 1070.90 1045.69zM1089.18 1047.52L1090.35 1047.64A3.30 3.30 0 0 0 1091.05 1041.08L1089.88 1040.95A3.30 3.30 0 0 0 1089.18 1047.52zM1098.58 1048.69L1108.30 1050.05A3.30 3.30 0 0 0 1109.21 1043.51L1099.50 1042.16A3.30 3.30 0 0 0 1098.58 1048.69zM1117.55 1051.29L1118.85 1051.46A3.30 3.30 0 0 0 1119.71 1044.91L1118.41 1044.74A3.30 3.30 0 0 0 1117.55 1051.29zM1127.17 1052.60L1140.71 1054.15A3.30 3.30 0 0 0 1141.46 1047.59L1127.92 1046.04A3.30 3.30 0 0 0 1127.17 1052.60zM1148.03 1054.54L1149.34 1054.68A3.30 3.30 0 0 0 1150.07 1048.12L1148.76 1047.98A3.30 3.30 0 0 0 1148.03 1054.54zM1156.90 1055.79L1172.09 1057.79A3.30 3.30 0 0 0 1172.95 1051.24L1157.76 1049.25A3.30 3.30 0 0 0 1156.90 1055.79zM1180.34 1058.23L1196.71 1060.48A3.30 3.30 0 0 0 1197.61 1053.94L1181.24 1051.69A3.30 3.30 0 0 0 1180.34 1058.23zM1204.87 1062.00L1212.87 1063.33A3.30 3.30 0 0 0 1213.95 1056.82L1205.95 1055.49A3.30 3.30 0 0 0 1204.87 1062.00zM1220.81 1064.21L1221.95 1064.38A3.30 3.30 0 0 0 1222.92 1057.85L1221.78 1057.68A3.30 3.30 0 0 0 1220.81 1064.21zM1229.87 1065.49L1241.26 1067.78A3.30 3.30 0 0 0 1242.56 1061.31L1231.18 1059.02A3.30 3.30 0 0 0 1229.87 1065.49zM1249.12 1069.65L1250.31 1069.89A3.30 3.30 0 0 0 1251.64 1063.43L1250.45 1063.19A3.30 3.30 0 0 0 1249.12 1069.65zM1257.96 1071.15L1268.77 1073.51A3.30 3.30 0 0 0 1270.17 1067.06L1259.37 1064.70A3.30 3.30 0 0 0 1257.96 1071.15zM1275.93 1075.29L1277.30 1075.62A3.30 3.30 0 0 0 1278.82 1069.20L1277.45 1068.87A3.30 3.30 0 0 0 1275.93 1075.29zM1283.49 1076.82L1307.39 1083.06A3.30 3.30 0 0 0 1309.06 1076.68L1285.16 1070.43A3.30 3.30 0 0 0 1283.49 1076.82zM1316.31 1085.70L1317.81 1086.16A3.30 3.30 0 0 0 1319.73 1079.85L1318.24 1079.39A3.30 3.30 0 0 0 1316.31 1085.70zM1325.83 1088.99L1334.63 1092.10A3.30 3.30 0 0 0 1336.83 1085.87L1328.03 1082.77A3.30 3.30 0 0 0 1325.83 1088.99zM1340.21 1094.28L1341.22 1094.63A3.30 3.30 0 0 0 1343.37 1088.38L1342.35 1088.04A3.30 3.30 0 0 0 1340.21 1094.28zM1348.78 1097.08L1359.43 1100.43A3.30 3.30 0 0 0 1361.41 1094.14L1350.76 1090.79A3.30 3.30 0 0 0 1348.78 1097.08zM1366.78 1102.82L1367.91 1103.20A3.30 3.30 0 0 0 1370.03 1096.95L1368.90 1096.57A3.30 3.30 0 0 0 1366.78 1102.82zM1375.18 1105.60L1385.81 1109.81A3.30 3.30 0 0 0 1388.24 1103.68L1377.61 1099.47A3.30 3.30 0 0 0 1375.18 1105.60zM1392.32 1113.20L1393.37 1113.62A3.30 3.30 0 0 0 1395.81 1107.49L1394.77 1107.07A3.30 3.30 0 0 0 1392.32 1113.20zM1400.99 1116.17L1409.40 1118.96A3.30 3.30 0 0 0 1411.48 1112.69L1403.07 1109.90A3.30 3.30 0 0 0 1400.99 1116.17zM1416.55 1121.42L1417.59 1121.80A3.30 3.30 0 0 0 1419.88 1115.61L1418.84 1115.23A3.30 3.30 0 0 0 1416.55 1121.42zM1425.08 1124.75L1433.77 1128.28A3.30 3.30 0 0 0 1436.25 1122.17L1427.56 1118.64A3.30 3.30 0 0 0 1425.08 1124.75zM1439.66 1130.42L1440.72 1130.76A3.30 3.30 0 0 0 1442.77 1124.49L1441.72 1124.14A3.30 3.30 0 0 0 1439.66 1130.42zM1449.46 1133.16L1459.35 1136.23A3.30 3.30 0 0 0 1461.30 1129.92L1451.41 1126.85A3.30 3.30 0 0 0 1449.46 1133.16zM1467.55 1138.94L1479.17 1142.76A3.30 3.30 0 0 0 1481.23 1136.50L1469.62 1132.67A3.30 3.30 0 0 0 1467.55 1138.94zM1486.90 1145.60L1488.24 1146.02A3.30 3.30 0 0 0 1490.21 1139.72L1488.87 1139.30A3.30 3.30 0 0 0 1486.90 1145.60zM1497.48 1148.56L1512.57 1152.98A3.30 3.30 0 0 0 1514.42 1146.64L1499.33 1142.23A3.30 3.30 0 0 0 1497.48 1148.56zM1520.85 1155.50L1528.58 1157.97A3.30 3.30 0 0 0 1530.59 1151.69L1522.87 1149.21A3.30 3.30 0 0 0 1520.85 1155.50zM1536.48 1161.24L1537.50 1161.56A3.30 3.30 0 0 0 1539.49 1155.27L1538.47 1154.94A3.30 3.30 0 0 0 1536.48 1161.24zM1545.17 1163.29L1552.52 1165.44A3.30 3.30 0 0 0 1554.37 1159.10L1547.02 1156.96A3.30 3.30 0 0 0 1545.17 1163.29zM1561.11 1168.43L1562.21 1168.79A3.30 3.30 0 0 0 1564.29 1162.52L1563.19 1162.16A3.30 3.30 0 0 0 1561.11 1168.43zM1569.62 1171.18L1579.49 1174.57A3.30 3.30 0 0 0 1581.63 1168.33L1571.77 1164.94A3.30 3.30 0 0 0 1569.62 1171.18zM1586.84 1177.49L1588.02 1177.92A3.30 3.30 0 0 0 1590.27 1171.71L1589.09 1171.29A3.30 3.30 0 0 0 1586.84 1177.49zM1597.69 1181.37L1606.59 1184.36A3.30 3.30 0 0 0 1608.70 1178.10L1599.79 1175.11A3.30 3.30 0 0 0 1597.69 1181.37zM1613.13 1186.37L1614.51 1186.88A3.30 3.30 0 0 0 1616.83 1180.71L1615.45 1180.19A3.30 3.30 0 0 0 1613.13 1186.37zM1622.21 1190.12L1646.36 1199.81A3.30 3.30 0 0 0 1648.82 1193.69L1624.67 1183.99A3.30 3.30 0 0 0 1622.21 1190.12zM1651.74 1201.96L1653.08 1202.47A3.30 3.30 0 0 0 1655.40 1196.29L1654.07 1195.79A3.30 3.30 0 0 0 1651.74 1201.96zM1661.26 1205.09L1670.16 1208.46A3.30 3.30 0 0 0 1672.50 1202.29L1663.60 1198.92A3.30 3.30 0 0 0 1661.26 1205.09zM1675.57 1211.09L1676.53 1211.49A3.30 3.30 0 0 0 1679.10 1205.41L1678.15 1205.01A3.30 3.30 0 0 0 1675.57 1211.09zM1683.26 1214.36L1692.89 1218.13A3.30 3.30 0 0 0 1695.30 1211.99L1685.66 1208.22A3.30 3.30 0 0 0 1683.26 1214.36zM1700.49 1220.71L1701.53 1221.11A3.30 3.30 0 0 0 1703.92 1214.96L1702.88 1214.55A3.30 3.30 0 0 0 1700.49 1220.71zM1708.33 1223.87L1716.37 1227.50A3.30 3.30 0 0 0 1719.09 1221.49L1711.04 1217.86A3.30 3.30 0 0 0 1708.33 1223.87zM1723.20 1231.09L1724.11 1231.50A3.30 3.30 0 0 0 1726.84 1225.49L1725.93 1225.08A3.30 3.30 0 0 0 1723.20 1231.09zM1731.21 1234.30L1736.38 1236.52A3.30 3.30 0 0 0 1738.98 1230.45L1733.81 1228.24A3.30 3.30 0 0 0 1731.21 1234.30zM1744.03 1240.16L1744.98 1240.62A3.30 3.30 0 0 0 1747.84 1234.67L1746.89 1234.21A3.30 3.30 0 0 0 1744.03 1240.16zM1751.70 1244.04L1760.33 1248.15A3.30 3.30 0 0 0 1763.17 1242.19L1754.54 1238.08A3.30 3.30 0 0 0 1751.70 1244.04zM1766.54 1250.67L1767.46 1251.08A3.30 3.30 0 0 0 1770.19 1245.07L1769.27 1244.66A3.30 3.30 0 0 0 1766.54 1250.67zM1774.07 1254.18L1781.06 1257.58A3.30 3.30 0 0 0 1783.95 1251.64L1776.96 1248.24A3.30 3.30 0 0 0 1774.07 1254.18zM1787.77 1260.96L1788.84 1261.53A3.30 3.30 0 0 0 1791.93 1255.69L1790.85 1255.13A3.30 3.30 0 0 0 1787.77 1260.96zM1795.15 1265.09L1810.12 1273.15A3.30 3.30 0 0 0 1813.25 1267.34L1798.28 1259.28A3.30 3.30 0 0 0 1795.15 1265.09zM1813.82 1275.13L1826.56 1281.15A3.30 3.30 0 0 0 1829.38 1275.18L1816.63 1269.16A3.30 3.30 0 0 0 1813.82 1275.13zM1833.46 1283.95L1834.52 1284.40A3.30 3.30 0 0 0 1837.11 1278.33L1836.05 1277.88A3.30 3.30 0 0 0 1833.46 1283.95zM1842.14 1287.56L1847.99 1289.95A3.30 3.30 0 0 0 1850.49 1283.84L1844.63 1281.45A3.30 3.30 0 0 0 1842.14 1287.56zM1854.68 1292.18L1855.62 1292.56A3.30 3.30 0 0 0 1858.10 1286.45L1857.16 1286.07A3.30 3.30 0 0 0 1854.68 1292.18zM1862.77 1296.00L1871.56 1299.42A3.30 3.30 0 0 0 1873.96 1293.27L1865.17 1289.85A3.30 3.30 0 0 0 1862.77 1296.00zM1879.11 1301.65L1880.10 1301.94A3.30 3.30 0 0 0 1881.95 1295.61L1880.97 1295.32A3.30 3.30 0 0 0 1879.11 1301.65zM1887.80 1303.93L1893.65 1305.28A3.30 3.30 0 0 0 1895.13 1298.85L1889.28 1297.50A3.30 3.30 0 0 0 1887.80 1303.93zM1900.38 1306.73L1901.30 1306.90A3.30 3.30 0 0 0 1902.51 1300.41L1901.59 1300.24A3.30 3.30 0 0 0 1900.38 1306.73zM1909.35 1308.18L1915.78 1309.11A3.30 3.30 0 0 0 1916.73 1302.58L1910.30 1301.65A3.30 3.30 0 0 0 1909.35 1308.18zM1923.20 1309.98L1924.32 1310.15A3.30 3.30 0 0 0 1925.31 1303.63L1924.20 1303.46A3.30 3.30 0 0 0 1923.20 1309.98zM1932.66 1311.62L1944.81 1313.64A3.30 3.30 0 0 0 1945.89 1307.13L1933.75 1305.11A3.30 3.30 0 0 0 1932.66 1311.62zM1954.64 1315.41L1970.00 1317.48A3.30 3.30 0 0 0 1970.88 1310.94L1955.51 1308.87A3.30 3.30 0 0 0 1954.64 1315.41zM1979.33 1318.00L1980.61 1318.14A3.30 3.30 0 0 0 1981.36 1311.58L1980.07 1311.44A3.30 3.30 0 0 0 1979.33 1318.00zM1988.19 1319.16L1996.51 1320.54A3.30 3.30 0 0 0 1997.59 1314.03L1989.27 1312.65A3.30 3.30 0 0 0 1988.19 1319.16zM2003.52 1321.98L2004.49 1322.12A3.30 3.30 0 0 0 2005.45 1315.59L2004.48 1315.45A3.30 3.30 0 0 0 2003.52 1321.98zM2012.62 1322.90L2017.62 1323.50A3.30 3.30 0 0 0 2018.41 1316.95L2013.41 1316.35A3.30 3.30 0 0 0 2012.62 1322.90zM2025.39 1324.32L2025.83 1324.37A3.30 3.30 0 0 0 2026.55 1317.81L2026.10 1317.76A3.30 3.30 0 0 0 2025.39 1324.32z"/>
<path fill="#900080" d="M304.03 92.85L306.32 92.85A3.30 3.30 0 0 0 306.32 86.25L304.03 86.25A3.30 3.30 0 0 0 304.03 92.85zM322.40 92.85L346.61 92.85A3.30 3.30 0 0 0 346.61 86.25L322.40 86.25A3.30 3.30 0 0 0 322.40 92.85zM362.68 92.85L365.56 92.85A3.30 3.30 0 0 0 365.56 86.25L362.68 86.25A3.30 3.30 0 0 0 362.68 92.85zM382.83 92.85L397.55 92.85A3.30 3.30 0 0 0 397.55 86.25L382.83 86.25A3.30 3.30 0 0 0 382.83 92.85zM413.63 92.85L414.14 92.85A3.30 3.30 0 0 0 414.14 86.25L413.63 86.25A3.30 3.30 0 0 0 413.63 92.85zM430.81 92.85L433.10 92.85A3.30 3.30 0 0 0 433.10 86.25L430.81 86.25A3.30 3.30 0 0 0 430.81 92.85zM449.18 92.85L466.27 92.85A3.30 3.30 0 0 0 466.27 86.25L449.18 86.25A3.30 3.30 0 0 0 449.18 92.85zM484.72 92.85L485.23 92.85A3.30 3.30 0 0 0 485.23 86.25L484.72 86.25A3.30 3.30 0 0 0 484.72 92.85zM502.49 92.85L504.19 92.85A3.30 3.30 0 0 0 504.19 86.25L502.49 86.25A3.30 3.30 0 0 0 502.49 92.85zM517.49 92.80L531.04 92.90A3.30 3.30 0 0 0 531.08 86.30L517.54 86.20A3.30 3.30 0 0 0 517.49 92.80zM544.74 93.20L545.25 93.21A3.30 3.30 0 0 0 545.31 86.61L544.80 86.60A3.30 3.30 0 0 0 544.74 93.20zM558.33 93.18L560.62 93.23A3.30 3.30 0 0 0 560.75 86.63L558.46 86.58A3.30 3.30 0 0 0 558.33 93.18zM574.25 93.77L586.61 94.29A3.30 3.30 0 0 0 586.89 87.70L574.53 87.18A3.30 3.30 0 0 0 574.25 93.77zM598.45 94.84L600.75 94.99A3.30 3.30 0 0 0 601.20 88.41L598.90 88.25A3.30 3.30 0 0 0 598.45 94.84zM611.29 96.13L612.42 96.27A3.30 3.30 0 0 0 613.24 89.72L612.10 89.58A3.30 3.30 0 0 0 611.29 96.13zM628.32 98.48L640.30 100.19A3.30 3.30 0 0 0 641.23 93.66L629.25 91.94A3.30 3.30 0 0 0 628.32 98.48zM654.53 101.91L656.60 102.21A3.30 3.30 0 0 0 657.55 95.68L655.48 95.38A3.30 3.30 0 0 0 654.53 101.91zM669.89 104.47L671.81 104.82A3.30 3.30 0 0 0 673.00 98.33L671.08 97.98A3.30 3.30 0 0 0 669.89 104.47zM682.54 106.83L696.08 109.64A3.30 3.30 0 0 0 697.42 103.17L683.88 100.36A3.30 3.30 0 0 0 682.54 106.83zM707.05 112.01L709.03 112.54A3.30 3.30 0 0 0 710.74 106.17L708.76 105.63A3.30 3.30 0 0 0 707.05 112.01zM722.84 117.13L725.12 117.92A3.30 3.30 0 0 0 727.28 111.69L725.00 110.90A3.30 3.30 0 0 0 722.84 117.13zM736.24 121.27L759.65 130.95A3.30 3.30 0 0 0 762.17 124.85L738.76 115.17A3.30 3.30 0 0 0 736.24 121.27zM771.71 137.48L773.77 138.77A3.30 3.30 0 0 0 777.26 133.16L775.20 131.88A3.30 3.30 0 0 0 771.71 137.48zM782.57 147.23L783.91 148.72A3.30 3.30 0 0 0 788.83 144.33L787.50 142.84A3.30 3.30 0 0 0 782.57 147.23zM791.15 157.09L799.42 169.97A3.30 3.30 0 0 0 804.97 166.41L796.70 153.52A3.30 3.30 0 0 0 791.15 157.09zM803.91 181.27L804.80 183.29A3.30 3.30 0 0 0 810.84 180.63L809.95 178.61A3.30 3.30 0 0 0 803.91 181.27zM810.33 197.42L811.11 199.70A3.30 3.30 0 0 0 817.35 197.57L816.57 195.28A3.30 3.30 0 0 0 810.33 197.42zM815.59 213.85L820.59 230.90A3.30 3.30 0 0 0 826.92 229.04L821.92 211.99A3.30 3.30 0 0 0 815.59 213.85zM823.85 246.72L824.36 249.20A3.30 3.30 0 0 0 830.82 247.88L830.32 245.40A3.30 3.30 0 0 0 823.85 246.72zM826.72 264.68L827.15 267.17A3.30 3.30 0 0 0 833.66 266.04L833.23 263.56A3.30 3.30 0 0 0 826.72 264.68zM830.04 283.48L833.38 300.24A3.30 3.30 0 0 0 839.85 298.95L836.51 282.19A3.30 3.30 0 0 0 830.04 283.48zM835.86 316.48L836.25 319.03A3.30 3.30 0 0 0 842.77 318.05L842.39 315.49A3.30 3.30 0 0 0 835.86 316.48zM838.34 335.63L838.70 338.21A3.30 3.30 0 0 0 845.24 337.29L844.88 334.72A3.30 3.30 0 0 0 838.34 335.63zM841.15 356.21L844.09 373.35A3.30 3.30 0 0 0 850.60 372.23L847.65 355.09A3.30 3.30 0 0 0 841.15 356.21zM846.32 390.41L846.70 392.98A3.30 3.30 0 0 0 853.23 392.02L852.85 389.45A3.30 3.30 0 0 0 846.32 390.41zM849.17 409.27L849.55 411.84A3.30 3.30 0 0 0 856.08 410.88L855.70 408.31A3.30 3.30 0 0 0 849.17 409.27zM851.66 428.62L854.88 446.68A3.30 3.30 0 0 0 861.38 445.53L858.16 427.46A3.30 3.30 0 0 0 851.66 428.62zM857.15 462.53L857.55 465.10A3.30 3.30 0 0 0 864.07 464.08L863.67 461.51A3.30 3.30 0 0 0 857.15 462.53zM860.19 481.90L860.58 484.47A3.30 3.30 0 0 0 867.11 483.50L866.72 480.93A3.30 3.30 0 0 0 860.19 481.90zM862.66 501.64L865.95 519.51A3.30 3.30 0 0 0 872.44 518.32L869.15 500.45A3.30 3.30 0 0 0 862.66 501.64zM868.56 535.57L868.96 538.09A3.30 3.30 0 0 0 875.48 537.05L875.07 534.53A3.30 3.30 0 0 0 868.56 535.57zM871.22 553.75L871.60 556.32A3.30 3.30 0 0 0 878.13 555.37L877.76 552.80A3.30 3.30 0 0 0 871.22 553.75zM873.85 573.56L876.98 591.64A3.30 3.30 0 0 0 883.49 590.51L880.35 572.43A3.30 3.30 0 0 0 873.85 573.56zM879.22 607.54L879.57 610.10A3.30 3.30 0 0 0 886.11 609.19L885.75 606.63A3.30 3.30 0 0 0 879.22 607.54zM881.50 626.52L881.84 629.09A3.30 3.30 0 0 0 888.38 628.24L888.05 625.66A3.30 3.30 0 0 0 881.50 626.52zM884.02 646.32L886.96 664.25A3.30 3.30 0 0 0 893.47 663.18L890.53 645.25A3.30 3.30 0 0 0 884.02 646.32zM888.91 680.52L889.26 683.09A3.30 3.30 0 0 0 895.80 682.22L895.46 679.64A3.30 3.30 0 0 0 888.91 680.52zM891.38 699.54L891.73 702.11A3.30 3.30 0 0 0 898.27 701.22L897.92 698.65A3.30 3.30 0 0 0 891.38 699.54zM894.04 719.89L898.97 752.80A3.30 3.30 0 0 0 905.50 751.82L900.57 718.91A3.30 3.30 0 0 0 894.04 719.89zM900.51 768.94L900.85 771.52A3.30 3.30 0 0 0 907.39 770.68L907.06 768.10A3.30 3.30 0 0 0 900.51 768.94zM903.17 787.97L903.52 790.55A3.30 3.30 0 0 0 910.06 789.67L909.71 787.09A3.30 3.30 0 0 0 903.17 787.97zM905.50 807.51L908.44 826.65A3.30 3.30 0 0 0 914.96 825.65L912.02 806.50A3.30 3.30 0 0 0 905.50 807.51zM910.02 842.70L910.35 845.28A3.30 3.30 0 0 0 916.90 844.44L916.57 841.87A3.30 3.30 0 0 0 910.02 842.70zM912.67 861.78L913.05 864.35A3.30 3.30 0 0 0 919.58 863.39L919.20 860.82A3.30 3.30 0 0 0 912.67 861.78zM915.64 881.56L918.45 899.21A3.30 3.30 0 0 0 924.97 898.18L922.16 880.52A3.30 3.30 0 0 0 915.64 881.56zM919.91 915.90L920.24 918.48A3.30 3.30 0 0 0 926.78 917.64L926.45 915.06A3.30 3.30 0 0 0 919.91 915.90zM922.74 934.98L923.12 937.55A3.30 3.30 0 0 0 929.65 936.58L929.27 934.01A3.30 3.30 0 0 0 922.74 934.98zM925.40 954.44L928.48 972.42A3.30 3.30 0 0 0 934.98 971.30L931.90 953.33A3.30 3.30 0 0 0 925.40 954.44zM930.73 988.79L931.11 991.36A3.30 3.30 0 0 0 937.64 990.38L937.25 987.81A3.30 3.30 0 0 0 930.73 988.79zM933.52 1008.04L934.28 1011.65A3.30 3.30 0 0 0 940.74 1010.29L939.98 1006.68A3.30 3.30 0 0 0 933.52 1008.04zM936.52 1027.21L940.10 1044.12A3.30 3.30 0 0 0 946.56 1042.75L942.98 1025.85A3.30 3.30 0 0 0 936.52 1027.21zM943.10 1059.38L943.60 1061.75A3.30 3.30 0 0 0 950.06 1060.39L949.56 1058.02A3.30 3.30 0 0 0 943.10 1059.38zM946.88 1076.77L947.55 1079.07A3.30 3.30 0 0 0 953.88 1077.22L953.21 1074.92A3.30 3.30 0 0 0 946.88 1076.77zM952.55 1095.06L958.30 1108.66A3.30 3.30 0 0 0 964.38 1106.08L958.62 1092.49A3.30 3.30 0 0 0 952.55 1095.06zM964.12 1120.48L965.04 1122.19A3.30 3.30 0 0 0 970.86 1119.06L969.94 1117.35A3.30 3.30 0 0 0 964.12 1120.48zM971.77 1132.54L973.07 1133.80A3.30 3.30 0 0 0 977.66 1129.06L976.36 1127.80A3.30 3.30 0 0 0 971.77 1132.54zM982.59 1141.69L995.56 1148.39A3.30 3.30 0 0 0 998.59 1142.53L985.62 1135.83A3.30 3.30 0 0 0 982.59 1141.69zM1006.70 1150.89L1008.40 1151.32A3.30 3.30 0 0 0 1010.03 1144.93L1008.33 1144.49A3.30 3.30 0 0 0 1006.70 1150.89zM1019.33 1152.93L1021.05 1153.21A3.30 3.30 0 0 0 1022.11 1146.69L1020.39 1146.41A3.30 3.30 0 0 0 1019.33 1152.93zM1031.85 1154.90L1044.49 1157.29A3.30 3.30 0 0 0 1045.72 1150.80L1033.07 1148.42A3.30 3.30 0 0 0 1031.85 1154.90zM1057.34 1159.86L1059.68 1160.31A3.30 3.30 0 0 0 1060.91 1153.83L1058.58 1153.38A3.30 3.30 0 0 0 1057.34 1159.86zM1071.48 1162.16L1087.32 1165.76A3.30 3.30 0 0 0 1088.79 1159.33L1072.94 1155.72A3.30 3.30 0 0 0 1071.48 1162.16zM1097.36 1168.37L1099.09 1168.82A3.30 3.30 0 0 0 1100.74 1162.43L1099.01 1161.98A3.30 3.30 0 0 0 1097.36 1168.37zM1108.83 1171.52L1110.50 1172.04A3.30 3.30 0 0 0 1112.46 1165.74L1110.79 1165.22A3.30 3.30 0 0 0 1108.83 1171.52zM1122.18 1176.07L1133.30 1179.48A3.30 3.30 0 0 0 1135.23 1173.17L1124.12 1169.76A3.30 3.30 0 0 0 1122.18 1176.07zM1144.74 1182.18L1146.56 1182.71A3.30 3.30 0 0 0 1148.41 1176.38L1146.60 1175.84A3.30 3.30 0 0 0 1144.74 1182.18zM1158.94 1186.89L1160.75 1187.46A3.30 3.30 0 0 0 1162.73 1181.17L1160.93 1180.60A3.30 3.30 0 0 0 1158.94 1186.89zM1172.15 1190.88L1182.98 1194.15A3.30 3.30 0 0 0 1184.89 1187.83L1174.05 1184.56A3.30 3.30 0 0 0 1172.15 1190.88zM1193.18 1197.17L1194.97 1197.73A3.30 3.30 0 0 0 1196.94 1191.43L1195.14 1190.87A3.30 3.30 0 0 0 1193.18 1197.17zM1208.30 1202.05L1210.08 1202.67A3.30 3.30 0 0 0 1212.23 1196.43L1210.45 1195.81A3.30 3.30 0 0 0 1208.30 1202.05zM1220.87 1206.54L1229.86 1209.91A3.30 3.30 0 0 0 1232.18 1203.73L1223.18 1200.36A3.30 3.30 0 0 0 1220.87 1206.54zM1240.11 1213.73L1241.77 1214.42A3.30 3.30 0 0 0 1244.30 1208.32L1242.64 1207.63A3.30 3.30 0 0 0 1240.11 1213.73zM1253.05 1219.23L1254.53 1220.46A3.30 3.30 0 0 0 1258.74 1215.37L1257.25 1214.14A3.30 3.30 0 0 0 1253.05 1219.23zM1262.74 1227.08L1267.98 1240.69A3.30 3.30 0 0 0 1274.14 1238.32L1268.90 1224.71A3.30 3.30 0 0 0 1262.74 1227.08zM1281.27 1246.02L1297.29 1247.69A3.30 3.30 0 0 0 1297.97 1241.13L1281.95 1239.46A3.30 3.30 0 0 0 1281.27 1246.02zM1310.03 1248.52L1312.12 1248.70A3.30 3.30 0 0 0 1312.70 1242.13L1310.62 1241.94A3.30 3.30 0 0 0 1310.03 1248.52zM1325.34 1250.03L1327.13 1250.22A3.30 3.30 0 0 0 1327.82 1243.66L1326.02 1243.47A3.30 3.30 0 0 0 1325.34 1250.03zM1337.02 1251.23L1348.62 1252.62A3.30 3.30 0 0 0 1349.41 1246.07L1337.80 1244.68A3.30 3.30 0 0 0 1337.02 1251.23zM1358.90 1253.80L1360.66 1254.04A3.30 3.30 0 0 0 1361.56 1247.50L1359.79 1247.26A3.30 3.30 0 0 0 1358.90 1253.80zM1373.08 1256.06L1374.96 1256.33A3.30 3.30 0 0 0 1375.89 1249.80L1374.02 1249.53A3.30 3.30 0 0 0 1373.08 1256.06zM1387.45 1258.00L1398.55 1259.35A3.30 3.30 0 0 0 1399.35 1252.80L1388.25 1251.44A3.30 3.30 0 0 0 1387.45 1258.00zM1411.15 1260.82L1412.93 1261.08A3.30 3.30 0 0 0 1413.87 1254.54L1412.09 1254.29A3.30 3.30 0 0 0 1411.15 1260.82zM1423.50 1263.09L1425.22 1263.36A3.30 3.30 0 0 0 1426.24 1256.84L1424.51 1256.57A3.30 3.30 0 0 0 1423.50 1263.09zM1436.90 1265.05L1448.39 1266.37A3.30 3.30 0 0 0 1449.14 1259.82L1437.66 1258.49A3.30 3.30 0 0 0 1436.90 1265.05zM1457.90 1267.13L1459.48 1267.33A3.30 3.30 0 0 0 1460.28 1260.78L1458.69 1260.58A3.30 3.30 0 0 0 1457.90 1267.13zM1469.77 1269.00L1471.42 1269.24A3.30 3.30 0 0 0 1472.36 1262.71L1470.71 1262.47A3.30 3.30 0 0 0 1469.77 1269.00zM1482.48 1270.70L1493.00 1272.11A3.30 3.30 0 0 0 1493.87 1265.57L1483.35 1264.16A3.30 3.30 0 0 0 1482.48 1270.70zM1502.38 1273.47L1521.53 1276.18A3.30 3.30 0 0 0 1522.45 1269.64L1503.30 1266.94A3.30 3.30 0 0 0 1502.38 1273.47zM1534.21 1277.91L1536.28 1278.20A3.30 3.30 0 0 0 1537.20 1271.67L1535.13 1271.38A3.30 3.30 0 0 0 1534.21 1277.91zM1547.60 1279.81L1549.40 1280.09A3.30 3.30 0 0 0 1550.43 1273.57L1548.63 1273.29A3.30 3.30 0 0 0 1547.60 1279.81zM1561.20 1282.08L1572.78 1284.08A3.30 3.30 0 0 0 1573.90 1277.57L1562.32 1275.58A3.30 3.30 0 0 0 1561.20 1282.08zM1583.16 1285.89L1584.88 1286.17A3.30 3.30 0 0 0 1585.96 1279.66L1584.25 1279.38A3.30 3.30 0 0 0 1583.16 1285.89zM1596.43 1287.99L1598.35 1288.27A3.30 3.30 0 0 0 1599.32 1281.74L1597.39 1281.46A3.30 3.30 0 0 0 1596.43 1287.99zM1611.71 1290.14L1624.52 1292.02A3.30 3.30 0 0 0 1625.48 1285.49L1612.67 1283.61A3.30 3.30 0 0 0 1611.71 1290.14zM1634.55 1293.70L1636.18 1293.96A3.30 3.30 0 0 0 1637.23 1287.44L1635.61 1287.18A3.30 3.30 0 0 0 1634.55 1293.70zM1645.95 1295.58L1647.51 1295.86A3.30 3.30 0 0 0 1648.65 1289.36L1647.09 1289.08A3.30 3.30 0 0 0 1645.95 1295.58zM1657.23 1297.59L1668.66 1299.73A3.30 3.30 0 0 0 1669.88 1293.25L1658.45 1291.10A3.30 3.30 0 0 0 1657.23 1297.59zM1676.91 1301.66L1678.48 1301.95A3.30 3.30 0 0 0 1679.67 1295.45L1678.10 1295.17A3.30 3.30 0 0 0 1676.91 1301.66zM1689.87 1303.62L1691.73 1303.95A3.30 3.30 0 0 0 1692.87 1297.45L1691.00 1297.12A3.30 3.30 0 0 0 1689.87 1303.62zM1705.55 1306.72L1716.02 1308.46A3.30 3.30 0 0 0 1717.11 1301.95L1706.64 1300.21A3.30 3.30 0 0 0 1705.55 1306.72zM1723.92 1309.68L1734.15 1311.39A3.30 3.30 0 0 0 1735.24 1304.89L1725.01 1303.17A3.30 3.30 0 0 0 1723.92 1309.68zM1745.06 1313.31L1746.64 1313.62A3.30 3.30 0 0 0 1747.94 1307.15L1746.36 1306.83A3.30 3.30 0 0 0 1745.06 1313.31zM1756.07 1315.95L1757.59 1316.28A3.30 3.30 0 0 0 1758.98 1309.83L1757.46 1309.50A3.30 3.30 0 0 0 1756.07 1315.95zM1767.85 1318.41L1777.82 1320.15A3.30 3.30 0 0 0 1778.96 1313.65L1768.99 1311.90A3.30 3.30 0 0 0 1767.85 1318.41zM1791.00 1322.24L1792.78 1322.57A3.30 3.30 0 0 0 1794.02 1316.09L1792.24 1315.75A3.30 3.30 0 0 0 1791.00 1322.24zM1803.28 1325.04L1804.99 1325.43A3.30 3.30 0 0 0 1806.45 1318.99L1804.74 1318.60A3.30 3.30 0 0 0 1803.28 1325.04zM1816.92 1328.12L1827.16 1330.34A3.30 3.30 0 0 0 1828.56 1323.89L1818.32 1321.67A3.30 3.30 0 0 0 1816.92 1328.12zM1838.07 1332.64L1839.78 1333.03A3.30 3.30 0 0 0 1841.24 1326.59L1839.53 1326.21A3.30 3.30 0 0 0 1838.07 1332.64zM1851.36 1335.86L1853.04 1336.26A3.30 3.30 0 0 0 1854.58 1329.84L1852.89 1329.44A3.30 3.30 0 0 0 1851.36 1335.86zM1863.63 1338.78L1873.68 1341.14A3.30 3.30 0 0 0 1875.19 1334.72L1865.14 1332.35A3.30 3.30 0 0 0 1863.63 1338.78zM1884.06 1343.65L1885.73 1344.06A3.30 3.30 0 0 0 1887.27 1337.64L1885.60 1337.24A3.30 3.30 0 0 0 1884.06 1343.65zM1897.30 1346.86L1899.02 1347.29A3.30 3.30 0 0 0 1900.64 1340.90L1898.93 1340.46A3.30 3.30 0 0 0 1897.30 1346.86zM1909.53 1350.03L1920.75 1353.03A3.30 3.30 0 0 0 1922.45 1346.66L1911.23 1343.66A3.30 3.30 0 0 0 1909.53 1350.03zM1931.79 1356.16L1948.64 1360.77A3.30 3.30 0 0 0 1950.38 1354.41L1933.53 1349.80A3.30 3.30 0 0 0 1931.79 1356.16zM1959.58 1363.93L1961.33 1364.41A3.30 3.30 0 0 0 1963.08 1358.05L1961.33 1357.57A3.30 3.30 0 0 0 1959.58 1363.93zM1970.56 1366.83L1972.10 1367.23A3.30 3.30 0 0 0 1973.77 1360.85L1972.23 1360.45A3.30 3.30 0 0 0 1970.56 1366.83zM1982.78 1369.99L1992.77 1372.63A3.30 3.30 0 0 0 1994.45 1366.24L1984.46 1363.61A3.30 3.30 0 0 0 1982.78 1369.99zM2003.29 1375.71L2005.03 1376.20A3.30 3.30 0 0 0 2006.82 1369.84L2005.08 1369.35A3.30 3.30 0 0 0 2003.29 1375.71zM2017.72 1379.76L2019.24 1380.16A3.30 3.30 0 0 0 2020.91 1373.77L2019.40 1373.38A3.30 3.30 0 0 0 2017.72 1379.76zM2027.86 1382.26L2034.36 1383.79A3.30 3.30 0 0 0 2035.87 1377.36L2029.37 1375.83A3.30 3.30 0 0 0 2027.86 1382.26z"/>
</g>
<path d="M264 88.25H291.23V1492.00 M264 1492.00H2027.60V1520 M278.0 1351.62H291.23 M264.0 1211.25H291.23 M278.0 1070.88H291.23 M264.0 930.50H291.23 M278.0 790.12H291.23 M264.0 649.75H291.23 M278.0 509.38H291.23 M264.0 369.00H291.23 M278.0 228.62H291.23 M406.98 1492.00V1506.5 M870.02 1492.00V1506.5 M1333.05 1492.00V1506.5 M1796.08 1492.00V1506.5" fill="none" stroke="#000" stroke-width="6" stroke-linecap="round" stroke-linejoin="round" shape-rendering="crispEdges"/>
<path d="M638.50 1493.00V1519.6 M1101.53 1493.00V1519.6 M1564.57 1493.00V1519.6 M2027.60 1493.00V1519.6" fill="none" stroke="#000" stroke-width="7" stroke-linecap="round" shape-rendering="crispEdges"/>
<g font-family="'Liberation Sans', sans-serif" fill="#000">
<text transform="translate(212.27 1509.30) scale(1 1.0350)" font-size="57.50" letter-spacing="1.00">0</text>
<text transform="translate(179.29 1228.55) scale(1 1.0350)" font-size="57.50" letter-spacing="1.00">20</text>
<text transform="translate(179.29 947.80) scale(1 1.0350)" font-size="57.50" letter-spacing="1.00">40</text>
<text transform="translate(179.29 667.05) scale(1 1.0350)" font-size="57.50" letter-spacing="1.00">60</text>
<text transform="translate(179.29 386.30) scale(1 1.0350)" font-size="57.50" letter-spacing="1.00">80</text>
<text transform="translate(146.31 105.55) scale(1 1.0350)" font-size="57.50" letter-spacing="1.00">100</text>
<text transform="translate(589.61 1585.00) scale(1 1.0350)" font-size="57.50" letter-spacing="1.00">200</text>
<text transform="translate(1053.43 1585.00) scale(1 1.0350)" font-size="57.50" letter-spacing="1.00">400</text>
<text transform="translate(1515.66 1585.00) scale(1 1.0350)" font-size="57.50" letter-spacing="1.00">600</text>
<text transform="translate(1978.91 1585.00) scale(1 1.0350)" font-size="57.50" letter-spacing="1.00">800</text>
<text transform="translate(881.47 1698.00) scale(1 1.0450)" font-size="72.41">Temperature / °C</text>
<text transform="translate(116.30 987.47) rotate(-90) scale(1 1.0450)" font-size="72.83">Residue / %</text>
<text transform="translate(1283.92 201.10) scale(1 1.0570)" font-size="72.90">BA-DOPO</text>
<text transform="translate(1283.56 290.30) scale(1 1.0570)" font-size="72.90">TAHHT-DOPO</text>
<text transform="translate(1283.56 380.40) scale(1 1.0570)" font-size="72.90">TAHHT-DDPO</text>
<text transform="translate(1283.56 470.10) scale(1 1.0570)" font-size="72.90">TAHHT-DOPO-DDPO</text>
</g>
<path d="M1101.20 178.20L1120.40 178.20A3.30 3.30 0 0 0 1120.40 171.60L1101.20 171.60A3.30 3.30 0 0 0 1101.20 178.20zM1150.00 178.20L1169.20 178.20A3.30 3.30 0 0 0 1169.20 171.60L1150.00 171.60A3.30 3.30 0 0 0 1150.00 178.20zM1198.80 178.20L1218.00 178.20A3.30 3.30 0 0 0 1218.00 171.60L1198.80 171.60A3.30 3.30 0 0 0 1198.80 178.20zM1247.60 178.20L1262.80 178.20A3.30 3.30 0 0 0 1262.80 171.60L1247.60 171.60A3.30 3.30 0 0 0 1247.60 178.20z" fill="#00ff00" shape-rendering="crispEdges"/>
<path d="M1101.20 268.10L1103.80 268.10A3.30 3.30 0 0 0 1103.80 261.50L1101.20 261.50A3.30 3.30 0 0 0 1101.20 268.10zM1130.20 268.10L1132.80 268.10A3.30 3.30 0 0 0 1132.80 261.50L1130.20 261.50A3.30 3.30 0 0 0 1130.20 268.10zM1159.20 268.10L1161.80 268.10A3.30 3.30 0 0 0 1161.80 261.50L1159.20 261.50A3.30 3.30 0 0 0 1159.20 268.10zM1188.20 268.10L1190.80 268.10A3.30 3.30 0 0 0 1190.80 261.50L1188.20 261.50A3.30 3.30 0 0 0 1188.20 268.10zM1217.20 268.10L1219.80 268.10A3.30 3.30 0 0 0 1219.80 261.50L1217.20 261.50A3.30 3.30 0 0 0 1217.20 268.10zM1246.20 268.10L1248.80 268.10A3.30 3.30 0 0 0 1248.80 261.50L1246.20 261.50A3.30 3.30 0 0 0 1246.20 268.10z" fill="#ff0000" shape-rendering="crispEdges"/>
<path d="M1101.20 358.10L1125.80 358.10A3.30 3.30 0 0 0 1125.80 351.50L1101.20 351.50A3.30 3.30 0 0 0 1101.20 358.10zM1142.20 358.10L1144.80 358.10A3.30 3.30 0 0 0 1144.80 351.50L1142.20 351.50A3.30 3.30 0 0 0 1142.20 358.10zM1162.30 358.10L1186.90 358.10A3.30 3.30 0 0 0 1186.90 351.50L1162.30 351.50A3.30 3.30 0 0 0 1162.30 358.10zM1203.30 358.10L1205.90 358.10A3.30 3.30 0 0 0 1205.90 351.50L1203.30 351.50A3.30 3.30 0 0 0 1203.30 358.10zM1223.40 358.10L1248.00 358.10A3.30 3.30 0 0 0 1248.00 351.50L1223.40 351.50A3.30 3.30 0 0 0 1223.40 358.10z" fill="#0000ff" shape-rendering="crispEdges"/>
<path d="M1101.20 447.40L1119.40 447.40A3.30 3.30 0 0 0 1119.40 440.80L1101.20 440.80A3.30 3.30 0 0 0 1101.20 447.40zM1135.30 447.40L1137.90 447.40A3.30 3.30 0 0 0 1137.90 440.80L1135.30 440.80A3.30 3.30 0 0 0 1135.30 447.40zM1154.70 447.40L1157.30 447.40A3.30 3.30 0 0 0 1157.30 440.80L1154.70 440.80A3.30 3.30 0 0 0 1154.70 447.40zM1174.20 447.40L1192.40 447.40A3.30 3.30 0 0 0 1192.40 440.80L1174.20 440.80A3.30 3.30 0 0 0 1174.20 447.40zM1208.30 447.40L1210.90 447.40A3.30 3.30 0 0 0 1210.90 440.80L1208.30 440.80A3.30 3.30 0 0 0 1208.30 447.40zM1227.70 447.40L1230.30 447.40A3.30 3.30 0 0 0 1230.30 440.80L1227.70 440.80A3.30 3.30 0 0 0 1227.70 447.40zM1247.20 447.40L1262.80 447.40A3.30 3.30 0 0 0 1262.80 440.80L1247.20 440.80A3.30 3.30 0 0 0 1247.20 447.40z" fill="#900080" shape-rendering="crispEdges"/>
</svg>
</body>
</html>
